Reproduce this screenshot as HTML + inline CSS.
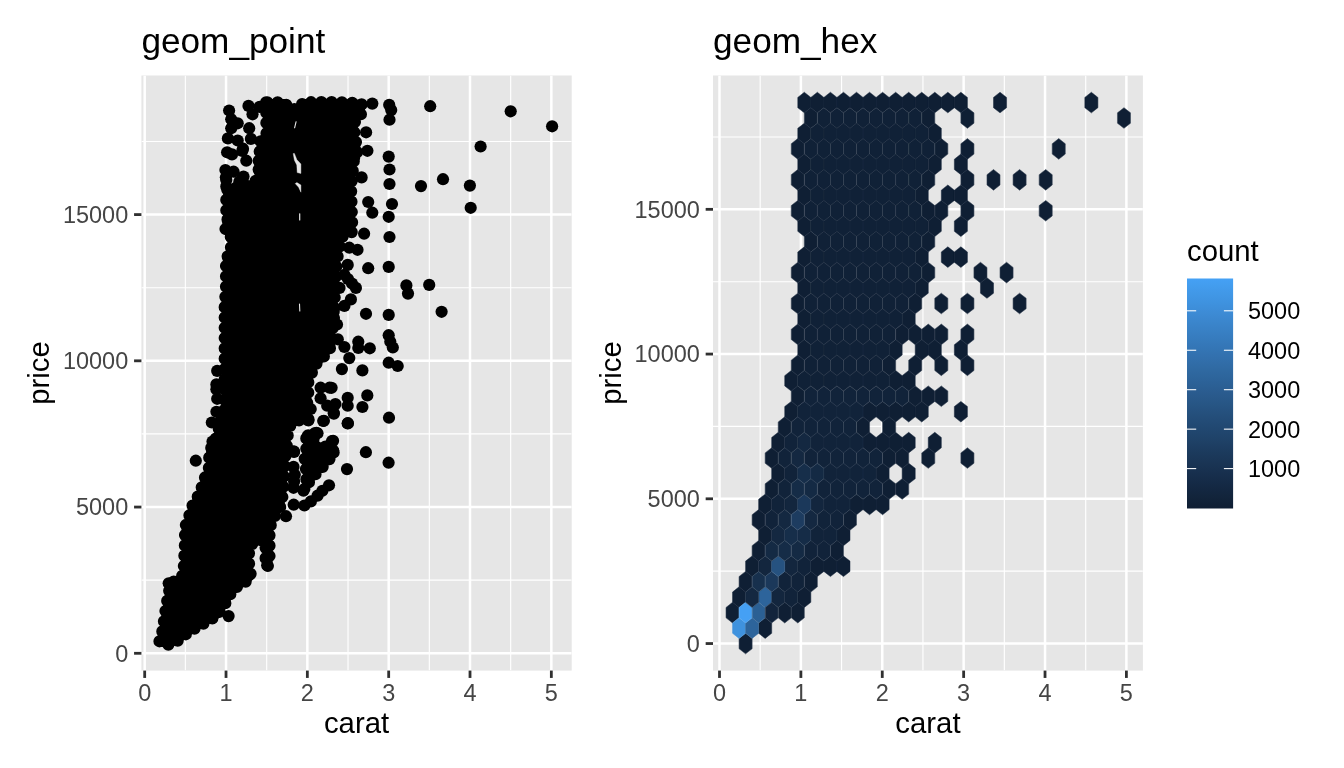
<!DOCTYPE html>
<html lang="en"><head><meta charset="utf-8"><title>geom_point vs geom_hex</title>
<style>html,body{margin:0;padding:0;background:#fff;}body{width:1344px;height:768px;overflow:hidden;font-family:"Liberation Sans",Arial,sans-serif;}svg{display:block;will-change:transform;transform:translateZ(0);}</style>
</head><body>
<svg width="1344" height="768" viewBox="0 0 1344 768" font-family="Liberation Sans, Arial, sans-serif">
<rect width="1344" height="768" fill="#fff"/>
<clipPath id="c1"><rect x="141.4" y="75.5" width="430.30" height="595.10"/></clipPath>
<rect x="141.4" y="75.5" width="430.30" height="595.10" fill="#E6E6E6"/>
<g clip-path="url(#c1)" stroke="#fff" fill="none">
<line x1="185.35" x2="185.35" y1="75.5" y2="670.6" stroke-width="1.15"/>
<line x1="266.69" x2="266.69" y1="75.5" y2="670.6" stroke-width="1.15"/>
<line x1="348.01" x2="348.01" y1="75.5" y2="670.6" stroke-width="1.15"/>
<line x1="429.34" x2="429.34" y1="75.5" y2="670.6" stroke-width="1.15"/>
<line x1="510.68" x2="510.68" y1="75.5" y2="670.6" stroke-width="1.15"/>
<line y1="580.18" y2="580.18" x1="141.4" x2="571.7" stroke-width="1.15"/>
<line y1="433.94" y2="433.94" x1="141.4" x2="571.7" stroke-width="1.15"/>
<line y1="287.70" y2="287.70" x1="141.4" x2="571.7" stroke-width="1.15"/>
<line y1="141.46" y2="141.46" x1="141.4" x2="571.7" stroke-width="1.15"/>
<line x1="144.69" x2="144.69" y1="75.5" y2="670.6" stroke-width="2.5"/>
<line x1="226.02" x2="226.02" y1="75.5" y2="670.6" stroke-width="2.5"/>
<line x1="307.35" x2="307.35" y1="75.5" y2="670.6" stroke-width="2.5"/>
<line x1="388.68" x2="388.68" y1="75.5" y2="670.6" stroke-width="2.5"/>
<line x1="470.01" x2="470.01" y1="75.5" y2="670.6" stroke-width="2.5"/>
<line x1="551.34" x2="551.34" y1="75.5" y2="670.6" stroke-width="2.5"/>
<line y1="653.30" y2="653.30" x1="141.4" x2="571.7" stroke-width="2.5"/>
<line y1="507.06" y2="507.06" x1="141.4" x2="571.7" stroke-width="2.5"/>
<line y1="360.82" y2="360.82" x1="141.4" x2="571.7" stroke-width="2.5"/>
<line y1="214.58" y2="214.58" x1="141.4" x2="571.7" stroke-width="2.5"/>
</g>
<g clip-path="url(#c1)" fill="#000">
<path d="M266.1,102.3 266.5,133.5 265.2,136.3 260.7,140.5 259.5,149.9 261.0,160.4 259.9,172.8 258.5,178.1 256.6,180.2 247.4,185.8 227.8,188.4 226.3,192.8 226.3,210.5 228.4,213.6 229.0,216.1 228.3,218.5 225.5,221.9 225.5,231.5 229.6,234.6 230.8,236.6 231.0,251.0 230.2,253.8 226.0,258.1 226.0,290.0 224.7,304.2 224.7,400.0 224.0,415.7 222.8,418.2 219.0,422.0 218.8,429.6 214.6,442.1 209.3,451.3 209.1,467.4 204.1,479.7 199.9,493.0 191.7,507.0 188.6,518.3 185.3,526.4 184.7,530.2 185.2,538.4 183.5,573.9 181.6,576.7 173.8,581.5 168.8,591.6 164.6,616.0 162.9,629.4 159.4,641.5 160.8,643.5 168.9,644.7 176.8,641.3 188.4,632.3 218.1,615.1 219.9,611.2 226.7,601.2 233.1,588.9 243.8,583.2 251.1,577.0 249.0,563.4 249.0,550.5 249.6,548.6 253.2,542.2 255.4,540.4 257.3,540.0 262.1,540.2 264.1,541.5 265.2,543.1 265.6,545.0 265.6,562.1 267.5,567.0 269.5,561.2 269.5,532.0 271.1,523.1 275.7,514.5 279.9,507.9 281.6,501.9 283.0,492.5 285.0,459.6 287.0,444.5 288.2,428.7 290.0,426.0 300.2,419.8 303.8,417.1 308.2,398.4 308.3,382.1 314.3,366.2 315.4,364.5 322.3,358.6 332.0,345.3 332.0,332.0 334.0,317.5 335.0,287.9 336.6,261.0 341.6,237.6 343.6,235.6 352.4,231.8 351.0,186.2 352.9,172.0 352.0,164.7 353.1,161.8 357.0,157.9 357.0,144.2 354.3,138.8 354.0,137.2 355.0,120.7 356.4,117.6 361.9,113.5 361.6,103.7 360.4,103.0 329.9,102.0 302.7,102.3 301.4,106.3 299.4,108.4 297.5,109.0 291.0,109.0 288.6,108.4 287.1,107.2 285.3,102.3ZM303.5,490.6 305.3,489.5 308.8,482.4 314.3,475.5 321.0,468.7 333.5,454.5 334.0,452.5 332.0,447.6 332.2,445.6 333.5,442.3 333.3,441.0 332.3,440.4 329.2,442.0 324.5,447.6 322.4,448.8 319.0,448.6 313.9,444.9 312.7,442.9 312.6,440.5 313.4,438.7 316.5,435.5 317.7,433.2 316.8,432.5 306.8,436.6 306.3,437.4 306.3,450.6 304.6,458.2 305.8,465.8 306.6,484.3 306.1,486.1Z" fill-rule="evenodd"/>
<path d="M266.1,102.3 266.5,133.5 265.2,136.3 260.7,140.5 259.5,149.9 261.0,160.4 259.9,172.8 258.5,178.1 256.6,180.2 247.4,185.8 227.8,188.4 226.3,192.8 226.3,210.5 228.4,213.6 229.0,216.1 228.3,218.5 225.5,221.9 225.5,231.5 229.6,234.6 230.8,236.6 231.0,251.0 230.2,253.8 226.0,258.1 226.0,290.0 224.7,304.2 224.7,400.0 224.0,415.7 222.8,418.2 219.0,422.0 218.8,429.6 214.6,442.1 209.3,451.3 209.1,467.4 204.1,479.7 199.9,493.0 191.7,507.0 188.6,518.3 185.3,526.4 184.7,530.2 185.2,538.4 183.5,573.9 181.6,576.7 173.8,581.5 168.8,591.6 164.6,616.0 162.9,629.4 159.4,641.5 160.8,643.5 168.9,644.7 176.8,641.3 188.4,632.3 218.1,615.1 219.9,611.2 226.7,601.2 233.1,588.9 243.8,583.2 251.1,577.0 249.0,563.4 249.0,550.5 249.6,548.6 253.2,542.2 255.4,540.4 257.3,540.0 262.1,540.2 264.1,541.5 265.2,543.1 265.6,545.0 265.6,562.1 267.5,567.0 269.5,561.2 269.5,532.0 271.1,523.1 275.7,514.5 279.9,507.9 281.6,501.9 283.0,492.5 285.0,459.6 287.0,444.5 288.2,428.7 290.0,426.0 300.2,419.8 303.8,417.1 308.2,398.4 308.3,382.1 314.3,366.2 315.4,364.5 322.3,358.6 332.0,345.3 332.0,332.0 334.0,317.5 335.0,287.9 336.6,261.0 341.6,237.6 343.6,235.6 352.4,231.8 351.0,186.2 352.9,172.0 352.0,164.7 353.1,161.8 357.0,157.9 357.0,144.2 354.3,138.8 354.0,137.2 355.0,120.7 356.4,117.6 361.9,113.5 361.6,103.7 360.4,103.0 329.9,102.0 302.7,102.3 301.4,106.3 299.4,108.4 297.5,109.0 291.0,109.0 288.6,108.4 287.1,107.2 285.3,102.3ZM303.5,490.6 305.3,489.5 308.8,482.4 314.3,475.5 321.0,468.7 333.5,454.5 334.0,452.5 332.0,447.6 332.2,445.6 333.5,442.3 333.3,441.0 332.3,440.4 329.2,442.0 324.5,447.6 322.4,448.8 319.0,448.6 313.9,444.9 312.7,442.9 312.6,440.5 313.4,438.7 316.5,435.5 317.7,433.2 316.8,432.5 306.8,436.6 306.3,437.4 306.3,450.6 304.6,458.2 305.8,465.8 306.6,484.3 306.1,486.1Z" fill="none" stroke="#000" stroke-width="12.2" stroke-linecap="round" stroke-linejoin="round" stroke-dasharray="0 10.3"/>
<path d="M266.1,102.3 266.5,133.5 265.2,136.3 260.7,140.5 259.5,149.9 261.0,160.4 259.9,172.8 258.5,178.1 256.6,180.2 247.4,185.8 227.8,188.4 226.3,192.8 226.3,210.5 228.4,213.6 229.0,216.1 228.3,218.5 225.5,221.9 225.5,231.5 229.6,234.6 230.8,236.6 231.0,251.0 230.2,253.8 226.0,258.1 226.0,290.0 224.7,304.2 224.7,400.0 224.0,415.7 222.8,418.2 219.0,422.0 218.8,429.6 214.6,442.1 209.3,451.3 209.1,467.4 204.1,479.7 199.9,493.0 191.7,507.0 188.6,518.3 185.3,526.4 184.7,530.2 185.2,538.4 183.5,573.9 181.6,576.7 173.8,581.5 168.8,591.6 164.6,616.0 162.9,629.4 159.4,641.5 160.8,643.5 168.9,644.7 176.8,641.3 188.4,632.3 218.1,615.1 219.9,611.2 226.7,601.2 233.1,588.9 243.8,583.2 251.1,577.0 249.0,563.4 249.0,550.5 249.6,548.6 253.2,542.2 255.4,540.4 257.3,540.0 262.1,540.2 264.1,541.5 265.2,543.1 265.6,545.0 265.6,562.1 267.5,567.0 269.5,561.2 269.5,532.0 271.1,523.1 275.7,514.5 279.9,507.9 281.6,501.9 283.0,492.5 285.0,459.6 287.0,444.5 288.2,428.7 290.0,426.0 300.2,419.8 303.8,417.1 308.2,398.4 308.3,382.1 314.3,366.2 315.4,364.5 322.3,358.6 332.0,345.3 332.0,332.0 334.0,317.5 335.0,287.9 336.6,261.0 341.6,237.6 343.6,235.6 352.4,231.8 351.0,186.2 352.9,172.0 352.0,164.7 353.1,161.8 357.0,157.9 357.0,144.2 354.3,138.8 354.0,137.2 355.0,120.7 356.4,117.6 361.9,113.5 361.6,103.7 360.4,103.0 329.9,102.0 302.7,102.3 301.4,106.3 299.4,108.4 297.5,109.0 291.0,109.0 288.6,108.4 287.1,107.2 285.3,102.3ZM303.5,490.6 305.3,489.5 308.8,482.4 314.3,475.5 321.0,468.7 333.5,454.5 334.0,452.5 332.0,447.6 332.2,445.6 333.5,442.3 333.3,441.0 332.3,440.4 329.2,442.0 324.5,447.6 322.4,448.8 319.0,448.6 313.9,444.9 312.7,442.9 312.6,440.5 313.4,438.7 316.5,435.5 317.7,433.2 316.8,432.5 306.8,436.6 306.3,437.4 306.3,450.6 304.6,458.2 305.8,465.8 306.6,484.3 306.1,486.1Z" fill="none" stroke="#000" stroke-width="6.4" stroke-linejoin="round"/>
<circle cx="229.1" cy="110.5" r="6.1"/>
<circle cx="248.5" cy="105.9" r="6.1"/>
<circle cx="252.5" cy="114.3" r="6.1"/>
<circle cx="231.2" cy="119.2" r="6.1"/>
<circle cx="237.7" cy="123.3" r="6.1"/>
<circle cx="231.2" cy="128.2" r="6.1"/>
<circle cx="249.2" cy="128.2" r="6.1"/>
<circle cx="227.9" cy="138.4" r="6.1"/>
<circle cx="237.7" cy="140.5" r="6.1"/>
<circle cx="243.0" cy="148.7" r="6.1"/>
<circle cx="227.1" cy="152.3" r="6.1"/>
<circle cx="232.0" cy="154.4" r="6.1"/>
<circle cx="246.3" cy="160.7" r="6.1"/>
<circle cx="250.9" cy="138.9" r="6.1"/>
<circle cx="225.4" cy="170.0" r="6.1"/>
<circle cx="233.6" cy="171.7" r="6.1"/>
<circle cx="243.5" cy="176.6" r="6.1"/>
<circle cx="226.3" cy="179.9" r="6.1"/>
<circle cx="226.3" cy="186.4" r="6.1"/>
<circle cx="239.4" cy="181.5" r="6.1"/>
<circle cx="372.3" cy="103.6" r="6.1"/>
<circle cx="389.2" cy="104.9" r="6.1"/>
<circle cx="391.2" cy="110.1" r="6.1"/>
<circle cx="389.5" cy="119.7" r="6.1"/>
<circle cx="430.2" cy="106.2" r="6.1"/>
<circle cx="510.7" cy="111.3" r="6.1"/>
<circle cx="552.1" cy="126.3" r="6.1"/>
<circle cx="480.6" cy="146.5" r="6.1"/>
<circle cx="366.1" cy="132.3" r="6.1"/>
<circle cx="367.4" cy="150.8" r="6.1"/>
<circle cx="388.7" cy="156.6" r="6.1"/>
<circle cx="389.5" cy="169.5" r="6.1"/>
<circle cx="389.5" cy="184.0" r="6.1"/>
<circle cx="421.0" cy="186.1" r="6.1"/>
<circle cx="443.0" cy="179.2" r="6.1"/>
<circle cx="469.9" cy="185.6" r="6.1"/>
<circle cx="368.2" cy="202.0" r="6.1"/>
<circle cx="392.0" cy="204.0" r="6.1"/>
<circle cx="470.7" cy="207.8" r="6.1"/>
<circle cx="372.3" cy="212.7" r="6.1"/>
<circle cx="388.7" cy="216.8" r="6.1"/>
<circle cx="361.6" cy="177.4" r="6.1"/>
<circle cx="364.1" cy="233.7" r="6.1"/>
<circle cx="389.5" cy="237.0" r="6.1"/>
<circle cx="368.2" cy="268.2" r="6.1"/>
<circle cx="388.7" cy="266.9" r="6.1"/>
<circle cx="406.4" cy="285.4" r="6.1"/>
<circle cx="408.0" cy="293.6" r="6.1"/>
<circle cx="366.0" cy="313.8" r="6.1"/>
<circle cx="388.7" cy="314.9" r="6.1"/>
<circle cx="349.3" cy="247.7" r="6.1"/>
<circle cx="357.5" cy="249.8" r="6.1"/>
<circle cx="347.7" cy="264.9" r="6.1"/>
<circle cx="344.4" cy="274.8" r="6.1"/>
<circle cx="348.0" cy="279.0" r="6.1"/>
<circle cx="352.0" cy="283.5" r="6.1"/>
<circle cx="355.9" cy="287.9" r="6.1"/>
<circle cx="339.5" cy="287.9" r="6.1"/>
<circle cx="350.9" cy="299.4" r="6.1"/>
<circle cx="344.4" cy="305.9" r="6.1"/>
<circle cx="333.7" cy="311.7" r="6.1"/>
<circle cx="217.2" cy="370.9" r="6.1"/>
<circle cx="216.4" cy="384.4" r="6.1"/>
<circle cx="216.4" cy="389.3" r="6.1"/>
<circle cx="217.2" cy="398.8" r="6.1"/>
<circle cx="216.4" cy="411.8" r="6.1"/>
<circle cx="211.8" cy="422.5" r="6.1"/>
<circle cx="337.0" cy="324.5" r="6.1"/>
<circle cx="337.8" cy="339.3" r="6.1"/>
<circle cx="344.4" cy="347.0" r="6.1"/>
<circle cx="320.6" cy="387.7" r="6.1"/>
<circle cx="329.6" cy="387.7" r="6.1"/>
<circle cx="320.6" cy="398.3" r="6.1"/>
<circle cx="327.2" cy="405.7" r="6.1"/>
<circle cx="335.4" cy="404.1" r="6.1"/>
<circle cx="333.7" cy="413.1" r="6.1"/>
<circle cx="310.7" cy="409.0" r="6.1"/>
<circle cx="323.9" cy="420.8" r="6.1"/>
<circle cx="308.3" cy="420.5" r="6.1"/>
<circle cx="388.7" cy="335.2" r="6.1"/>
<circle cx="390.3" cy="341.7" r="6.1"/>
<circle cx="392.8" cy="347.5" r="6.1"/>
<circle cx="358.3" cy="341.7" r="6.1"/>
<circle cx="358.3" cy="348.0" r="6.1"/>
<circle cx="369.8" cy="348.3" r="6.1"/>
<circle cx="349.3" cy="358.1" r="6.1"/>
<circle cx="341.9" cy="369.1" r="6.1"/>
<circle cx="362.4" cy="370.4" r="6.1"/>
<circle cx="388.7" cy="362.7" r="6.1"/>
<circle cx="397.7" cy="366.0" r="6.1"/>
<circle cx="367.3" cy="395.4" r="6.1"/>
<circle cx="347.7" cy="397.8" r="6.1"/>
<circle cx="347.7" cy="405.7" r="6.1"/>
<circle cx="362.4" cy="407.0" r="6.1"/>
<circle cx="389.0" cy="417.7" r="6.1"/>
<circle cx="347.7" cy="423.4" r="6.1"/>
<circle cx="441.6" cy="311.8" r="6.1"/>
<circle cx="331.6" cy="387.8" r="6.1"/>
<circle cx="212.5" cy="441.5" r="6.1"/>
<circle cx="195.8" cy="460.7" r="6.1"/>
<circle cx="308.5" cy="419.4" r="6.1"/>
<circle cx="323.2" cy="421.0" r="6.1"/>
<circle cx="333.9" cy="413.6" r="6.1"/>
<circle cx="347.9" cy="423.2" r="6.1"/>
<circle cx="307.7" cy="436.6" r="6.1"/>
<circle cx="317.5" cy="433.3" r="6.1"/>
<circle cx="293.7" cy="451.4" r="6.1"/>
<circle cx="329.0" cy="485.3" r="6.1"/>
<circle cx="322.4" cy="490.8" r="6.1"/>
<circle cx="317.5" cy="495.7" r="6.1"/>
<circle cx="310.9" cy="501.4" r="6.1"/>
<circle cx="304.4" cy="505.5" r="6.1"/>
<circle cx="293.7" cy="504.7" r="6.1"/>
<circle cx="286.0" cy="516.2" r="6.1"/>
<circle cx="365.9" cy="452.2" r="6.1"/>
<circle cx="347.0" cy="469.1" r="6.1"/>
<circle cx="388.6" cy="462.7" r="6.1"/>
<circle cx="316.4" cy="432.8" r="6.1"/>
<circle cx="308.2" cy="435.3" r="6.1"/>
<circle cx="332.0" cy="441.0" r="6.1"/>
<circle cx="333.6" cy="452.5" r="6.1"/>
<circle cx="429.2" cy="284.9" r="6.1"/>
<circle cx="259.6" cy="106.9" r="6.1"/>
<circle cx="242.3" cy="150.9" r="6.1"/>
<circle cx="258.7" cy="160.9" r="6.1"/>
<circle cx="258.7" cy="169.6" r="6.1"/>
<circle cx="225.9" cy="177.3" r="6.1"/>
<circle cx="294.1" cy="451.9" r="6.1"/>
<circle cx="293.5" cy="466.9" r="6.1"/>
<circle cx="294.8" cy="474.7" r="6.1"/>
<circle cx="294.1" cy="481.2" r="6.1"/>
<circle cx="293.5" cy="487.8" r="6.1"/>
<circle cx="168.7" cy="583.3" r="6.1"/>
<circle cx="228.6" cy="616.1" r="6.1"/>
<circle cx="267.2" cy="565.3" r="6.1"/>
<path d="M296.1,121.7 294.6,127.8" fill="none" stroke="#E6E6E6" stroke-width="1.1" stroke-linecap="round" stroke-linejoin="round"/>
<path d="M299.7,213.8 299.7,220.0" fill="none" stroke="#E6E6E6" stroke-width="1.2" stroke-linecap="round" stroke-linejoin="round"/>
<path d="M299.5,304.0 299.8,311.0" fill="none" stroke="#E6E6E6" stroke-width="1.1" stroke-linecap="round" stroke-linejoin="round"/>
<path d="M293.2,153.6 294.4,153.4 296.9,159.8 300.9,163.9 300.9,173.4 297.2,172.6 296.8,165.0 294.4,160.2Z" fill="#E6E6E6" stroke="#E6E6E6" stroke-width=".4" stroke-linejoin="round"/>
<path d="M295.2,183.6 296.9,182.6 300.9,185.0 300.9,192.2 298.6,187.2Z" fill="#E6E6E6" stroke="#E6E6E6" stroke-width=".4" stroke-linejoin="round"/>
</g>
<g stroke="#303030" stroke-width="2.8">
<line x1="144.69" x2="144.69" y1="670.6" y2="677.93"/>
<line x1="226.02" x2="226.02" y1="670.6" y2="677.93"/>
<line x1="307.35" x2="307.35" y1="670.6" y2="677.93"/>
<line x1="388.68" x2="388.68" y1="670.6" y2="677.93"/>
<line x1="470.01" x2="470.01" y1="670.6" y2="677.93"/>
<line x1="551.34" x2="551.34" y1="670.6" y2="677.93"/>
<line y1="653.30" y2="653.30" x1="134.07" x2="141.4"/>
<line y1="507.06" y2="507.06" x1="134.07" x2="141.4"/>
<line y1="360.82" y2="360.82" x1="134.07" x2="141.4"/>
<line y1="214.58" y2="214.58" x1="134.07" x2="141.4"/>
</g>
<g fill="#454545" font-size="23.47">
<text x="144.69" y="700.80" text-anchor="middle">0</text>
<text x="226.02" y="700.80" text-anchor="middle">1</text>
<text x="307.35" y="700.80" text-anchor="middle">2</text>
<text x="388.68" y="700.80" text-anchor="middle">3</text>
<text x="470.01" y="700.80" text-anchor="middle">4</text>
<text x="551.34" y="700.80" text-anchor="middle">5</text>
<text x="128.20" y="661.70" text-anchor="end">0</text>
<text x="128.20" y="515.46" text-anchor="end">5000</text>
<text x="128.20" y="369.22" text-anchor="end">10000</text>
<text x="128.20" y="222.98" text-anchor="end">15000</text>
</g>
<text x="356.55" y="733.00" text-anchor="middle" font-size="29.33" fill="#000">carat</text>
<text transform="translate(49.4,373.05) rotate(-90)" text-anchor="middle" font-size="29.33" fill="#000">price</text>
<text x="141.4" y="53.3" font-size="35.2" fill="#000">geom_point</text>
<clipPath id="c2"><rect x="713.0" y="75.5" width="429.90" height="595.10"/></clipPath>
<rect x="713.0" y="75.5" width="429.90" height="595.10" fill="#E6E6E6"/>
<g clip-path="url(#c2)" stroke="#fff" fill="none">
<line x1="760.19" x2="760.19" y1="75.5" y2="670.6" stroke-width="1.15"/>
<line x1="841.57" x2="841.57" y1="75.5" y2="670.6" stroke-width="1.15"/>
<line x1="922.95" x2="922.95" y1="75.5" y2="670.6" stroke-width="1.15"/>
<line x1="1004.33" x2="1004.33" y1="75.5" y2="670.6" stroke-width="1.15"/>
<line x1="1085.71" x2="1085.71" y1="75.5" y2="670.6" stroke-width="1.15"/>
<line y1="571.18" y2="571.18" x1="713.0" x2="1142.9" stroke-width="1.15"/>
<line y1="426.44" y2="426.44" x1="713.0" x2="1142.9" stroke-width="1.15"/>
<line y1="281.70" y2="281.70" x1="713.0" x2="1142.9" stroke-width="1.15"/>
<line y1="136.96" y2="136.96" x1="713.0" x2="1142.9" stroke-width="1.15"/>
<line x1="719.50" x2="719.50" y1="75.5" y2="670.6" stroke-width="2.5"/>
<line x1="800.88" x2="800.88" y1="75.5" y2="670.6" stroke-width="2.5"/>
<line x1="882.26" x2="882.26" y1="75.5" y2="670.6" stroke-width="2.5"/>
<line x1="963.64" x2="963.64" y1="75.5" y2="670.6" stroke-width="2.5"/>
<line x1="1045.02" x2="1045.02" y1="75.5" y2="670.6" stroke-width="2.5"/>
<line x1="1126.40" x2="1126.40" y1="75.5" y2="670.6" stroke-width="2.5"/>
<line y1="643.55" y2="643.55" x1="713.0" x2="1142.9" stroke-width="2.5"/>
<line y1="498.81" y2="498.81" x1="713.0" x2="1142.9" stroke-width="2.5"/>
<line y1="354.07" y2="354.07" x1="713.0" x2="1142.9" stroke-width="2.5"/>
<line y1="209.33" y2="209.33" x1="713.0" x2="1142.9" stroke-width="2.5"/>
</g>
<g clip-path="url(#c2)">
<path d="M745.60,633.25 752.12,638.40 752.12,648.70 745.60,653.85 739.07,648.70 739.07,638.40ZM765.17,617.79 771.69,622.94 771.69,633.25 765.17,638.40 758.64,633.25 758.64,622.94ZM732.55,602.33 739.07,607.48 739.07,617.79 732.55,622.94 726.02,617.79 726.02,607.48ZM784.74,602.33 791.26,607.48 791.26,617.79 784.74,622.94 778.22,617.79 778.22,607.48ZM797.79,602.33 804.31,607.48 804.31,617.79 797.79,622.94 791.26,617.79 791.26,607.48ZM739.07,586.87 745.60,592.03 745.60,602.33 739.07,607.48 732.55,602.33 732.55,592.03ZM804.31,586.87 810.84,592.03 810.84,602.33 804.31,607.48 797.79,602.33 797.79,592.03ZM745.60,571.42 752.12,576.57 752.12,586.87 745.60,592.03 739.07,586.87 739.07,576.57ZM810.84,571.42 817.36,576.57 817.36,586.87 810.84,592.03 804.31,586.87 804.31,576.57ZM752.12,555.96 758.64,561.11 758.64,571.42 752.12,576.57 745.60,571.42 745.60,561.11ZM817.36,555.96 823.88,561.11 823.88,571.42 817.36,576.57 810.84,571.42 810.84,561.11ZM830.41,555.96 836.93,561.11 836.93,571.42 830.41,576.57 823.88,571.42 823.88,561.11ZM843.46,555.96 849.98,561.11 849.98,571.42 843.46,576.57 836.93,571.42 836.93,561.11ZM758.64,540.50 765.17,545.66 765.17,555.96 758.64,561.11 752.12,555.96 752.12,545.66ZM836.93,540.50 843.46,545.66 843.46,555.96 836.93,561.11 830.41,555.96 830.41,545.66ZM765.17,525.05 771.69,530.20 771.69,540.50 765.17,545.66 758.64,540.50 758.64,530.20ZM843.46,525.05 849.98,530.20 849.98,540.50 843.46,545.66 836.93,540.50 836.93,530.20ZM758.64,509.59 765.17,514.74 765.17,525.05 758.64,530.20 752.12,525.05 752.12,514.74ZM849.98,509.59 856.50,514.74 856.50,525.05 849.98,530.20 843.46,525.05 843.46,514.74ZM765.17,494.13 771.69,499.28 771.69,509.59 765.17,514.74 758.64,509.59 758.64,499.28ZM856.50,494.13 863.03,499.28 863.03,509.59 856.50,514.74 849.98,509.59 849.98,499.28ZM869.55,494.13 876.08,499.28 876.08,509.59 869.55,514.74 863.03,509.59 863.03,499.28ZM882.60,494.13 889.12,499.28 889.12,509.59 882.60,514.74 876.08,509.59 876.08,499.28ZM771.69,478.68 778.22,483.83 778.22,494.13 771.69,499.28 765.17,494.13 765.17,483.83ZM889.12,478.68 895.65,483.83 895.65,494.13 889.12,499.28 882.60,494.13 882.60,483.83ZM902.17,478.68 908.70,483.83 908.70,494.13 902.17,499.28 895.65,494.13 895.65,483.83ZM778.22,463.22 784.74,468.37 784.74,478.68 778.22,483.83 771.69,478.68 771.69,468.37ZM882.60,463.22 889.12,468.37 889.12,478.68 882.60,483.83 876.08,478.68 876.08,468.37ZM908.70,463.22 915.22,468.37 915.22,478.68 908.70,483.83 902.17,478.68 902.17,468.37ZM771.69,447.76 778.22,452.91 778.22,463.22 771.69,468.37 765.17,463.22 765.17,452.91ZM889.12,447.76 895.65,452.91 895.65,463.22 889.12,468.37 882.60,463.22 882.60,452.91ZM902.17,447.76 908.70,452.91 908.70,463.22 902.17,468.37 895.65,463.22 895.65,452.91ZM928.27,447.76 934.79,452.91 934.79,463.22 928.27,468.37 921.74,463.22 921.74,452.91ZM967.41,447.76 973.94,452.91 973.94,463.22 967.41,468.37 960.89,463.22 960.89,452.91ZM778.22,432.30 784.74,437.46 784.74,447.76 778.22,452.91 771.69,447.76 771.69,437.46ZM869.55,432.30 876.08,437.46 876.08,447.76 869.55,452.91 863.03,447.76 863.03,437.46ZM882.60,432.30 889.12,437.46 889.12,447.76 882.60,452.91 876.08,447.76 876.08,437.46ZM895.65,432.30 902.17,437.46 902.17,447.76 895.65,452.91 889.12,447.76 889.12,437.46ZM908.70,432.30 915.22,437.46 915.22,447.76 908.70,452.91 902.17,447.76 902.17,437.46ZM934.79,432.30 941.32,437.46 941.32,447.76 934.79,452.91 928.27,447.76 928.27,437.46ZM784.74,416.85 791.26,422.00 791.26,432.30 784.74,437.46 778.22,432.30 778.22,422.00ZM863.03,416.85 869.55,422.00 869.55,432.30 863.03,437.46 856.50,432.30 856.50,422.00ZM889.12,416.85 895.65,422.00 895.65,432.30 889.12,437.46 882.60,432.30 882.60,422.00ZM791.26,401.39 797.79,406.54 797.79,416.85 791.26,422.00 784.74,416.85 784.74,406.54ZM869.55,401.39 876.08,406.54 876.08,416.85 869.55,422.00 863.03,416.85 863.03,406.54ZM882.60,401.39 889.12,406.54 889.12,416.85 882.60,422.00 876.08,416.85 876.08,406.54ZM895.65,401.39 902.17,406.54 902.17,416.85 895.65,422.00 889.12,416.85 889.12,406.54ZM908.70,401.39 915.22,406.54 915.22,416.85 908.70,422.00 902.17,416.85 902.17,406.54ZM921.74,401.39 928.27,406.54 928.27,416.85 921.74,422.00 915.22,416.85 915.22,406.54ZM960.89,401.39 967.41,406.54 967.41,416.85 960.89,422.00 954.36,416.85 954.36,406.54ZM797.79,385.93 804.31,391.09 804.31,401.39 797.79,406.54 791.26,401.39 791.26,391.09ZM915.22,385.93 921.74,391.09 921.74,401.39 915.22,406.54 908.70,401.39 908.70,391.09ZM928.27,385.93 934.79,391.09 934.79,401.39 928.27,406.54 921.74,401.39 921.74,391.09ZM941.32,385.93 947.84,391.09 947.84,401.39 941.32,406.54 934.79,401.39 934.79,391.09ZM791.26,370.48 797.79,375.63 797.79,385.93 791.26,391.09 784.74,385.93 784.74,375.63ZM895.65,370.48 902.17,375.63 902.17,385.93 895.65,391.09 889.12,385.93 889.12,375.63ZM908.70,370.48 915.22,375.63 915.22,385.93 908.70,391.09 902.17,385.93 902.17,375.63ZM797.79,355.02 804.31,360.17 804.31,370.48 797.79,375.63 791.26,370.48 791.26,360.17ZM889.12,355.02 895.65,360.17 895.65,370.48 889.12,375.63 882.60,370.48 882.60,360.17ZM915.22,355.02 921.74,360.17 921.74,370.48 915.22,375.63 908.70,370.48 908.70,360.17ZM941.32,355.02 947.84,360.17 947.84,370.48 941.32,375.63 934.79,370.48 934.79,360.17ZM967.41,355.02 973.94,360.17 973.94,370.48 967.41,375.63 960.89,370.48 960.89,360.17ZM804.31,339.56 810.84,344.71 810.84,355.02 804.31,360.17 797.79,355.02 797.79,344.71ZM895.65,339.56 902.17,344.71 902.17,355.02 895.65,360.17 889.12,355.02 889.12,344.71ZM921.74,339.56 928.27,344.71 928.27,355.02 921.74,360.17 915.22,355.02 915.22,344.71ZM934.79,339.56 941.32,344.71 941.32,355.02 934.79,360.17 928.27,355.02 928.27,344.71ZM960.89,339.56 967.41,344.71 967.41,355.02 960.89,360.17 954.36,355.02 954.36,344.71ZM797.79,324.11 804.31,329.26 804.31,339.56 797.79,344.71 791.26,339.56 791.26,329.26ZM902.17,324.11 908.70,329.26 908.70,339.56 902.17,344.71 895.65,339.56 895.65,329.26ZM915.22,324.11 921.74,329.26 921.74,339.56 915.22,344.71 908.70,339.56 908.70,329.26ZM928.27,324.11 934.79,329.26 934.79,339.56 928.27,344.71 921.74,339.56 921.74,329.26ZM941.32,324.11 947.84,329.26 947.84,339.56 941.32,344.71 934.79,339.56 934.79,329.26ZM967.41,324.11 973.94,329.26 973.94,339.56 967.41,344.71 960.89,339.56 960.89,329.26ZM804.31,308.65 810.84,313.80 810.84,324.11 804.31,329.26 797.79,324.11 797.79,313.80ZM908.70,308.65 915.22,313.80 915.22,324.11 908.70,329.26 902.17,324.11 902.17,313.80ZM797.79,293.19 804.31,298.34 804.31,308.65 797.79,313.80 791.26,308.65 791.26,298.34ZM915.22,293.19 921.74,298.34 921.74,308.65 915.22,313.80 908.70,308.65 908.70,298.34ZM941.32,293.19 947.84,298.34 947.84,308.65 941.32,313.80 934.79,308.65 934.79,298.34ZM967.41,293.19 973.94,298.34 973.94,308.65 967.41,313.80 960.89,308.65 960.89,298.34ZM1019.60,293.19 1026.13,298.34 1026.13,308.65 1019.60,313.80 1013.08,308.65 1013.08,298.34ZM804.31,277.73 810.84,282.89 810.84,293.19 804.31,298.34 797.79,293.19 797.79,282.89ZM921.74,277.73 928.27,282.89 928.27,293.19 921.74,298.34 915.22,293.19 915.22,282.89ZM986.98,277.73 993.51,282.89 993.51,293.19 986.98,298.34 980.46,293.19 980.46,282.89ZM797.79,262.28 804.31,267.43 804.31,277.73 797.79,282.89 791.26,277.73 791.26,267.43ZM928.27,262.28 934.79,267.43 934.79,277.73 928.27,282.89 921.74,277.73 921.74,267.43ZM980.46,262.28 986.98,267.43 986.98,277.73 980.46,282.89 973.94,277.73 973.94,267.43ZM1006.56,262.28 1013.08,267.43 1013.08,277.73 1006.56,282.89 1000.03,277.73 1000.03,267.43ZM804.31,246.82 810.84,251.97 810.84,262.28 804.31,267.43 797.79,262.28 797.79,251.97ZM921.74,246.82 928.27,251.97 928.27,262.28 921.74,267.43 915.22,262.28 915.22,251.97ZM947.84,246.82 954.36,251.97 954.36,262.28 947.84,267.43 941.32,262.28 941.32,251.97ZM960.89,246.82 967.41,251.97 967.41,262.28 960.89,267.43 954.36,262.28 954.36,251.97ZM810.84,231.36 817.36,236.52 817.36,246.82 810.84,251.97 804.31,246.82 804.31,236.52ZM928.27,231.36 934.79,236.52 934.79,246.82 928.27,251.97 921.74,246.82 921.74,236.52ZM804.31,215.91 810.84,221.06 810.84,231.36 804.31,236.52 797.79,231.36 797.79,221.06ZM934.79,215.91 941.32,221.06 941.32,231.36 934.79,236.52 928.27,231.36 928.27,221.06ZM960.89,215.91 967.41,221.06 967.41,231.36 960.89,236.52 954.36,231.36 954.36,221.06ZM797.79,200.45 804.31,205.60 804.31,215.91 797.79,221.06 791.26,215.91 791.26,205.60ZM928.27,200.45 934.79,205.60 934.79,215.91 928.27,221.06 921.74,215.91 921.74,205.60ZM941.32,200.45 947.84,205.60 947.84,215.91 941.32,221.06 934.79,215.91 934.79,205.60ZM967.41,200.45 973.94,205.60 973.94,215.91 967.41,221.06 960.89,215.91 960.89,205.60ZM1045.70,200.45 1052.22,205.60 1052.22,215.91 1045.70,221.06 1039.18,215.91 1039.18,205.60ZM804.31,184.99 810.84,190.14 810.84,200.45 804.31,205.60 797.79,200.45 797.79,190.14ZM921.74,184.99 928.27,190.14 928.27,200.45 921.74,205.60 915.22,200.45 915.22,190.14ZM947.84,184.99 954.36,190.14 954.36,200.45 947.84,205.60 941.32,200.45 941.32,190.14ZM960.89,184.99 967.41,190.14 967.41,200.45 960.89,205.60 954.36,200.45 954.36,190.14ZM797.79,169.54 804.31,174.69 804.31,184.99 797.79,190.14 791.26,184.99 791.26,174.69ZM928.27,169.54 934.79,174.69 934.79,184.99 928.27,190.14 921.74,184.99 921.74,174.69ZM967.41,169.54 973.94,174.69 973.94,184.99 967.41,190.14 960.89,184.99 960.89,174.69ZM993.51,169.54 1000.03,174.69 1000.03,184.99 993.51,190.14 986.98,184.99 986.98,174.69ZM1019.60,169.54 1026.13,174.69 1026.13,184.99 1019.60,190.14 1013.08,184.99 1013.08,174.69ZM1045.70,169.54 1052.22,174.69 1052.22,184.99 1045.70,190.14 1039.18,184.99 1039.18,174.69ZM804.31,154.08 810.84,159.23 810.84,169.54 804.31,174.69 797.79,169.54 797.79,159.23ZM934.79,154.08 941.32,159.23 941.32,169.54 934.79,174.69 928.27,169.54 928.27,159.23ZM960.89,154.08 967.41,159.23 967.41,169.54 960.89,174.69 954.36,169.54 954.36,159.23ZM797.79,138.62 804.31,143.77 804.31,154.08 797.79,159.23 791.26,154.08 791.26,143.77ZM941.32,138.62 947.84,143.77 947.84,154.08 941.32,159.23 934.79,154.08 934.79,143.77ZM967.41,138.62 973.94,143.77 973.94,154.08 967.41,159.23 960.89,154.08 960.89,143.77ZM1058.75,138.62 1065.27,143.77 1065.27,154.08 1058.75,159.23 1052.22,154.08 1052.22,143.77ZM804.31,123.16 810.84,128.32 810.84,138.62 804.31,143.77 797.79,138.62 797.79,128.32ZM934.79,123.16 941.32,128.32 941.32,138.62 934.79,143.77 928.27,138.62 928.27,128.32ZM810.84,107.71 817.36,112.86 817.36,123.16 810.84,128.32 804.31,123.16 804.31,112.86ZM928.27,107.71 934.79,112.86 934.79,123.16 928.27,128.32 921.74,123.16 921.74,112.86ZM967.41,107.71 973.94,112.86 973.94,123.16 967.41,128.32 960.89,123.16 960.89,112.86ZM1123.99,107.71 1130.51,112.86 1130.51,123.16 1123.99,128.32 1117.46,123.16 1117.46,112.86ZM804.31,92.25 810.84,97.40 810.84,107.71 804.31,112.86 797.79,107.71 797.79,97.40ZM817.36,92.25 823.88,97.40 823.88,107.71 817.36,112.86 810.84,107.71 810.84,97.40ZM830.41,92.25 836.93,97.40 836.93,107.71 830.41,112.86 823.88,107.71 823.88,97.40ZM843.46,92.25 849.98,97.40 849.98,107.71 843.46,112.86 836.93,107.71 836.93,97.40ZM856.50,92.25 863.03,97.40 863.03,107.71 856.50,112.86 849.98,107.71 849.98,97.40ZM869.55,92.25 876.08,97.40 876.08,107.71 869.55,112.86 863.03,107.71 863.03,97.40ZM882.60,92.25 889.12,97.40 889.12,107.71 882.60,112.86 876.08,107.71 876.08,97.40ZM895.65,92.25 902.17,97.40 902.17,107.71 895.65,112.86 889.12,107.71 889.12,97.40ZM908.70,92.25 915.22,97.40 915.22,107.71 908.70,112.86 902.17,107.71 902.17,97.40ZM921.74,92.25 928.27,97.40 928.27,107.71 921.74,112.86 915.22,107.71 915.22,97.40ZM934.79,92.25 941.32,97.40 941.32,107.71 934.79,112.86 928.27,107.71 928.27,97.40ZM947.84,92.25 954.36,97.40 954.36,107.71 947.84,112.86 941.32,107.71 941.32,97.40ZM960.89,92.25 967.41,97.40 967.41,107.71 960.89,112.86 954.36,107.71 954.36,97.40ZM1000.03,92.25 1006.56,97.40 1006.56,107.71 1000.03,112.86 993.51,107.71 993.51,97.40ZM1091.37,92.25 1097.89,97.40 1097.89,107.71 1091.37,112.86 1084.84,107.71 1084.84,97.40Z" fill="#0F1F34" stroke="#0F1F34" stroke-width=".5" stroke-linejoin="round"/>
<path d="M739.07,617.79 745.60,622.94 745.60,633.25 739.07,638.40 732.55,633.25 732.55,622.94Z" fill="#3F92DE" stroke="#3F92DE" stroke-width=".5" stroke-linejoin="round"/>
<path d="M752.12,617.79 758.64,622.94 758.64,633.25 752.12,638.40 745.60,633.25 745.60,622.94ZM765.17,586.87 771.69,592.03 771.69,602.33 765.17,607.48 758.64,602.33 758.64,592.03Z" fill="#2D649B" stroke="#2D649B" stroke-width=".5" stroke-linejoin="round"/>
<path d="M745.60,602.33 752.12,607.48 752.12,617.79 745.60,622.94 739.07,617.79 739.07,607.48Z" fill="#45A0F4" stroke="#45A0F4" stroke-width=".5" stroke-linejoin="round"/>
<path d="M758.64,602.33 765.17,607.48 765.17,617.79 758.64,622.94 752.12,617.79 752.12,607.48Z" fill="#2B6094" stroke="#2B6094" stroke-width=".5" stroke-linejoin="round"/>
<path d="M771.69,602.33 778.22,607.48 778.22,617.79 771.69,622.94 765.17,617.79 765.17,607.48Z" fill="#12243C" stroke="#12243C" stroke-width=".5" stroke-linejoin="round"/>
<path d="M752.12,586.87 758.64,592.03 758.64,602.33 752.12,607.48 745.60,602.33 745.60,592.03ZM778.22,525.05 784.74,530.20 784.74,540.50 778.22,545.66 771.69,540.50 771.69,530.20ZM784.74,509.59 791.26,514.74 791.26,525.05 784.74,530.20 778.22,525.05 778.22,514.74ZM810.84,509.59 817.36,514.74 817.36,525.05 810.84,530.20 804.31,525.05 804.31,514.74ZM797.79,447.76 804.31,452.91 804.31,463.22 797.79,468.37 791.26,463.22 791.26,452.91ZM804.31,432.30 810.84,437.46 810.84,447.76 804.31,452.91 797.79,447.76 797.79,437.46Z" fill="#142841" stroke="#142841" stroke-width=".5" stroke-linejoin="round"/>
<path d="M778.22,586.87 784.74,592.03 784.74,602.33 778.22,607.48 771.69,602.33 771.69,592.03ZM765.17,555.96 771.69,561.11 771.69,571.42 765.17,576.57 758.64,571.42 758.64,561.11ZM791.26,555.96 797.79,561.11 797.79,571.42 791.26,576.57 784.74,571.42 784.74,561.11ZM791.26,494.13 797.79,499.28 797.79,509.59 791.26,514.74 784.74,509.59 784.74,499.28ZM817.36,494.13 823.88,499.28 823.88,509.59 817.36,514.74 810.84,509.59 810.84,499.28Z" fill="#13263E" stroke="#13263E" stroke-width=".5" stroke-linejoin="round"/>
<path d="M791.26,586.87 797.79,592.03 797.79,602.33 791.26,607.48 784.74,602.33 784.74,592.03ZM784.74,571.42 791.26,576.57 791.26,586.87 784.74,592.03 778.22,586.87 778.22,576.57ZM797.79,571.42 804.31,576.57 804.31,586.87 797.79,592.03 791.26,586.87 791.26,576.57ZM804.31,555.96 810.84,561.11 810.84,571.42 804.31,576.57 797.79,571.42 797.79,561.11ZM810.84,540.50 817.36,545.66 817.36,555.96 810.84,561.11 804.31,555.96 804.31,545.66ZM823.88,540.50 830.41,545.66 830.41,555.96 823.88,561.11 817.36,555.96 817.36,545.66ZM817.36,525.05 823.88,530.20 823.88,540.50 817.36,545.66 810.84,540.50 810.84,530.20ZM830.41,525.05 836.93,530.20 836.93,540.50 830.41,545.66 823.88,540.50 823.88,530.20ZM771.69,509.59 778.22,514.74 778.22,525.05 771.69,530.20 765.17,525.05 765.17,514.74ZM823.88,509.59 830.41,514.74 830.41,525.05 823.88,530.20 817.36,525.05 817.36,514.74ZM836.93,509.59 843.46,514.74 843.46,525.05 836.93,530.20 830.41,525.05 830.41,514.74ZM778.22,494.13 784.74,499.28 784.74,509.59 778.22,514.74 771.69,509.59 771.69,499.28ZM830.41,494.13 836.93,499.28 836.93,509.59 830.41,514.74 823.88,509.59 823.88,499.28ZM843.46,494.13 849.98,499.28 849.98,509.59 843.46,514.74 836.93,509.59 836.93,499.28ZM784.74,478.68 791.26,483.83 791.26,494.13 784.74,499.28 778.22,494.13 778.22,483.83ZM823.88,478.68 830.41,483.83 830.41,494.13 823.88,499.28 817.36,494.13 817.36,483.83ZM836.93,478.68 843.46,483.83 843.46,494.13 836.93,499.28 830.41,494.13 830.41,483.83ZM849.98,478.68 856.50,483.83 856.50,494.13 849.98,499.28 843.46,494.13 843.46,483.83ZM863.03,478.68 869.55,483.83 869.55,494.13 863.03,499.28 856.50,494.13 856.50,483.83ZM876.08,478.68 882.60,483.83 882.60,494.13 876.08,499.28 869.55,494.13 869.55,483.83ZM791.26,463.22 797.79,468.37 797.79,478.68 791.26,483.83 784.74,478.68 784.74,468.37ZM830.41,463.22 836.93,468.37 836.93,478.68 830.41,483.83 823.88,478.68 823.88,468.37ZM843.46,463.22 849.98,468.37 849.98,478.68 843.46,483.83 836.93,478.68 836.93,468.37ZM856.50,463.22 863.03,468.37 863.03,478.68 856.50,483.83 849.98,478.68 849.98,468.37ZM869.55,463.22 876.08,468.37 876.08,478.68 869.55,483.83 863.03,478.68 863.03,468.37ZM784.74,447.76 791.26,452.91 791.26,463.22 784.74,468.37 778.22,463.22 778.22,452.91ZM810.84,447.76 817.36,452.91 817.36,463.22 810.84,468.37 804.31,463.22 804.31,452.91ZM823.88,447.76 830.41,452.91 830.41,463.22 823.88,468.37 817.36,463.22 817.36,452.91ZM836.93,447.76 843.46,452.91 843.46,463.22 836.93,468.37 830.41,463.22 830.41,452.91ZM849.98,447.76 856.50,452.91 856.50,463.22 849.98,468.37 843.46,463.22 843.46,452.91ZM863.03,447.76 869.55,452.91 869.55,463.22 863.03,468.37 856.50,463.22 856.50,452.91ZM876.08,447.76 882.60,452.91 882.60,463.22 876.08,468.37 869.55,463.22 869.55,452.91ZM791.26,432.30 797.79,437.46 797.79,447.76 791.26,452.91 784.74,447.76 784.74,437.46ZM817.36,432.30 823.88,437.46 823.88,447.76 817.36,452.91 810.84,447.76 810.84,437.46ZM830.41,432.30 836.93,437.46 836.93,447.76 830.41,452.91 823.88,447.76 823.88,437.46ZM843.46,432.30 849.98,437.46 849.98,447.76 843.46,452.91 836.93,447.76 836.93,437.46ZM856.50,432.30 863.03,437.46 863.03,447.76 856.50,452.91 849.98,447.76 849.98,437.46ZM797.79,416.85 804.31,422.00 804.31,432.30 797.79,437.46 791.26,432.30 791.26,422.00ZM810.84,416.85 817.36,422.00 817.36,432.30 810.84,437.46 804.31,432.30 804.31,422.00ZM823.88,416.85 830.41,422.00 830.41,432.30 823.88,437.46 817.36,432.30 817.36,422.00ZM836.93,416.85 843.46,422.00 843.46,432.30 836.93,437.46 830.41,432.30 830.41,422.00ZM849.98,416.85 856.50,422.00 856.50,432.30 849.98,437.46 843.46,432.30 843.46,422.00ZM804.31,401.39 810.84,406.54 810.84,416.85 804.31,422.00 797.79,416.85 797.79,406.54ZM817.36,401.39 823.88,406.54 823.88,416.85 817.36,422.00 810.84,416.85 810.84,406.54ZM830.41,401.39 836.93,406.54 836.93,416.85 830.41,422.00 823.88,416.85 823.88,406.54ZM843.46,401.39 849.98,406.54 849.98,416.85 843.46,422.00 836.93,416.85 836.93,406.54ZM856.50,401.39 863.03,406.54 863.03,416.85 856.50,422.00 849.98,416.85 849.98,406.54ZM810.84,385.93 817.36,391.09 817.36,401.39 810.84,406.54 804.31,401.39 804.31,391.09ZM823.88,385.93 830.41,391.09 830.41,401.39 823.88,406.54 817.36,401.39 817.36,391.09ZM836.93,385.93 843.46,391.09 843.46,401.39 836.93,406.54 830.41,401.39 830.41,391.09ZM849.98,385.93 856.50,391.09 856.50,401.39 849.98,406.54 843.46,401.39 843.46,391.09ZM863.03,385.93 869.55,391.09 869.55,401.39 863.03,406.54 856.50,401.39 856.50,391.09ZM876.08,385.93 882.60,391.09 882.60,401.39 876.08,406.54 869.55,401.39 869.55,391.09ZM889.12,385.93 895.65,391.09 895.65,401.39 889.12,406.54 882.60,401.39 882.60,391.09ZM902.17,385.93 908.70,391.09 908.70,401.39 902.17,406.54 895.65,401.39 895.65,391.09Z" fill="#11233A" stroke="#11233A" stroke-width=".5" stroke-linejoin="round"/>
<path d="M758.64,571.42 765.17,576.57 765.17,586.87 758.64,592.03 752.12,586.87 752.12,576.57Z" fill="#17304D" stroke="#17304D" stroke-width=".5" stroke-linejoin="round"/>
<path d="M771.69,571.42 778.22,576.57 778.22,586.87 771.69,592.03 765.17,586.87 765.17,576.57ZM804.31,494.13 810.84,499.28 810.84,509.59 804.31,514.74 797.79,509.59 797.79,499.28Z" fill="#1B385A" stroke="#1B385A" stroke-width=".5" stroke-linejoin="round"/>
<path d="M778.22,555.96 784.74,561.11 784.74,571.42 778.22,576.57 771.69,571.42 771.69,561.11Z" fill="#265280" stroke="#265280" stroke-width=".5" stroke-linejoin="round"/>
<path d="M771.69,540.50 778.22,545.66 778.22,555.96 771.69,561.11 765.17,555.96 765.17,545.66ZM797.79,540.50 804.31,545.66 804.31,555.96 797.79,561.11 791.26,555.96 791.26,545.66ZM810.84,478.68 817.36,483.83 817.36,494.13 810.84,499.28 804.31,494.13 804.31,483.83ZM817.36,463.22 823.88,468.37 823.88,478.68 817.36,483.83 810.84,478.68 810.84,468.37Z" fill="#142A44" stroke="#142A44" stroke-width=".5" stroke-linejoin="round"/>
<path d="M784.74,540.50 791.26,545.66 791.26,555.96 784.74,561.11 778.22,555.96 778.22,545.66ZM804.31,525.05 810.84,530.20 810.84,540.50 804.31,545.66 797.79,540.50 797.79,530.20ZM797.79,478.68 804.31,483.83 804.31,494.13 797.79,499.28 791.26,494.13 791.26,483.83Z" fill="#152C47" stroke="#152C47" stroke-width=".5" stroke-linejoin="round"/>
<path d="M791.26,525.05 797.79,530.20 797.79,540.50 791.26,545.66 784.74,540.50 784.74,530.20ZM804.31,463.22 810.84,468.37 810.84,478.68 804.31,483.83 797.79,478.68 797.79,468.37Z" fill="#162E4A" stroke="#162E4A" stroke-width=".5" stroke-linejoin="round"/>
<path d="M797.79,509.59 804.31,514.74 804.31,525.05 797.79,530.20 791.26,525.05 791.26,514.74Z" fill="#1D3C60" stroke="#1D3C60" stroke-width=".5" stroke-linejoin="round"/>
<path d="M804.31,370.48 810.84,375.63 810.84,385.93 804.31,391.09 797.79,385.93 797.79,375.63ZM817.36,370.48 823.88,375.63 823.88,385.93 817.36,391.09 810.84,385.93 810.84,375.63ZM830.41,370.48 836.93,375.63 836.93,385.93 830.41,391.09 823.88,385.93 823.88,375.63ZM843.46,370.48 849.98,375.63 849.98,385.93 843.46,391.09 836.93,385.93 836.93,375.63ZM856.50,370.48 863.03,375.63 863.03,385.93 856.50,391.09 849.98,385.93 849.98,375.63ZM869.55,370.48 876.08,375.63 876.08,385.93 869.55,391.09 863.03,385.93 863.03,375.63ZM882.60,370.48 889.12,375.63 889.12,385.93 882.60,391.09 876.08,385.93 876.08,375.63ZM810.84,355.02 817.36,360.17 817.36,370.48 810.84,375.63 804.31,370.48 804.31,360.17ZM823.88,355.02 830.41,360.17 830.41,370.48 823.88,375.63 817.36,370.48 817.36,360.17ZM836.93,355.02 843.46,360.17 843.46,370.48 836.93,375.63 830.41,370.48 830.41,360.17ZM849.98,355.02 856.50,360.17 856.50,370.48 849.98,375.63 843.46,370.48 843.46,360.17ZM863.03,355.02 869.55,360.17 869.55,370.48 863.03,375.63 856.50,370.48 856.50,360.17ZM876.08,355.02 882.60,360.17 882.60,370.48 876.08,375.63 869.55,370.48 869.55,360.17ZM817.36,339.56 823.88,344.71 823.88,355.02 817.36,360.17 810.84,355.02 810.84,344.71ZM830.41,339.56 836.93,344.71 836.93,355.02 830.41,360.17 823.88,355.02 823.88,344.71ZM843.46,339.56 849.98,344.71 849.98,355.02 843.46,360.17 836.93,355.02 836.93,344.71ZM856.50,339.56 863.03,344.71 863.03,355.02 856.50,360.17 849.98,355.02 849.98,344.71ZM869.55,339.56 876.08,344.71 876.08,355.02 869.55,360.17 863.03,355.02 863.03,344.71ZM882.60,339.56 889.12,344.71 889.12,355.02 882.60,360.17 876.08,355.02 876.08,344.71ZM810.84,324.11 817.36,329.26 817.36,339.56 810.84,344.71 804.31,339.56 804.31,329.26ZM823.88,324.11 830.41,329.26 830.41,339.56 823.88,344.71 817.36,339.56 817.36,329.26ZM836.93,324.11 843.46,329.26 843.46,339.56 836.93,344.71 830.41,339.56 830.41,329.26ZM849.98,324.11 856.50,329.26 856.50,339.56 849.98,344.71 843.46,339.56 843.46,329.26ZM863.03,324.11 869.55,329.26 869.55,339.56 863.03,344.71 856.50,339.56 856.50,329.26ZM876.08,324.11 882.60,329.26 882.60,339.56 876.08,344.71 869.55,339.56 869.55,329.26ZM889.12,324.11 895.65,329.26 895.65,339.56 889.12,344.71 882.60,339.56 882.60,329.26ZM817.36,308.65 823.88,313.80 823.88,324.11 817.36,329.26 810.84,324.11 810.84,313.80ZM830.41,308.65 836.93,313.80 836.93,324.11 830.41,329.26 823.88,324.11 823.88,313.80ZM843.46,308.65 849.98,313.80 849.98,324.11 843.46,329.26 836.93,324.11 836.93,313.80ZM856.50,308.65 863.03,313.80 863.03,324.11 856.50,329.26 849.98,324.11 849.98,313.80ZM869.55,308.65 876.08,313.80 876.08,324.11 869.55,329.26 863.03,324.11 863.03,313.80ZM882.60,308.65 889.12,313.80 889.12,324.11 882.60,329.26 876.08,324.11 876.08,313.80ZM895.65,308.65 902.17,313.80 902.17,324.11 895.65,329.26 889.12,324.11 889.12,313.80ZM810.84,293.19 817.36,298.34 817.36,308.65 810.84,313.80 804.31,308.65 804.31,298.34ZM823.88,293.19 830.41,298.34 830.41,308.65 823.88,313.80 817.36,308.65 817.36,298.34ZM836.93,293.19 843.46,298.34 843.46,308.65 836.93,313.80 830.41,308.65 830.41,298.34ZM849.98,293.19 856.50,298.34 856.50,308.65 849.98,313.80 843.46,308.65 843.46,298.34ZM863.03,293.19 869.55,298.34 869.55,308.65 863.03,313.80 856.50,308.65 856.50,298.34ZM876.08,293.19 882.60,298.34 882.60,308.65 876.08,313.80 869.55,308.65 869.55,298.34ZM889.12,293.19 895.65,298.34 895.65,308.65 889.12,313.80 882.60,308.65 882.60,298.34ZM902.17,293.19 908.70,298.34 908.70,308.65 902.17,313.80 895.65,308.65 895.65,298.34ZM817.36,277.73 823.88,282.89 823.88,293.19 817.36,298.34 810.84,293.19 810.84,282.89ZM830.41,277.73 836.93,282.89 836.93,293.19 830.41,298.34 823.88,293.19 823.88,282.89ZM843.46,277.73 849.98,282.89 849.98,293.19 843.46,298.34 836.93,293.19 836.93,282.89ZM856.50,277.73 863.03,282.89 863.03,293.19 856.50,298.34 849.98,293.19 849.98,282.89ZM869.55,277.73 876.08,282.89 876.08,293.19 869.55,298.34 863.03,293.19 863.03,282.89ZM882.60,277.73 889.12,282.89 889.12,293.19 882.60,298.34 876.08,293.19 876.08,282.89ZM895.65,277.73 902.17,282.89 902.17,293.19 895.65,298.34 889.12,293.19 889.12,282.89ZM908.70,277.73 915.22,282.89 915.22,293.19 908.70,298.34 902.17,293.19 902.17,282.89ZM810.84,262.28 817.36,267.43 817.36,277.73 810.84,282.89 804.31,277.73 804.31,267.43ZM823.88,262.28 830.41,267.43 830.41,277.73 823.88,282.89 817.36,277.73 817.36,267.43ZM836.93,262.28 843.46,267.43 843.46,277.73 836.93,282.89 830.41,277.73 830.41,267.43ZM849.98,262.28 856.50,267.43 856.50,277.73 849.98,282.89 843.46,277.73 843.46,267.43ZM863.03,262.28 869.55,267.43 869.55,277.73 863.03,282.89 856.50,277.73 856.50,267.43ZM876.08,262.28 882.60,267.43 882.60,277.73 876.08,282.89 869.55,277.73 869.55,267.43ZM889.12,262.28 895.65,267.43 895.65,277.73 889.12,282.89 882.60,277.73 882.60,267.43ZM902.17,262.28 908.70,267.43 908.70,277.73 902.17,282.89 895.65,277.73 895.65,267.43ZM915.22,262.28 921.74,267.43 921.74,277.73 915.22,282.89 908.70,277.73 908.70,267.43ZM817.36,246.82 823.88,251.97 823.88,262.28 817.36,267.43 810.84,262.28 810.84,251.97ZM830.41,246.82 836.93,251.97 836.93,262.28 830.41,267.43 823.88,262.28 823.88,251.97ZM843.46,246.82 849.98,251.97 849.98,262.28 843.46,267.43 836.93,262.28 836.93,251.97ZM856.50,246.82 863.03,251.97 863.03,262.28 856.50,267.43 849.98,262.28 849.98,251.97ZM869.55,246.82 876.08,251.97 876.08,262.28 869.55,267.43 863.03,262.28 863.03,251.97ZM882.60,246.82 889.12,251.97 889.12,262.28 882.60,267.43 876.08,262.28 876.08,251.97ZM895.65,246.82 902.17,251.97 902.17,262.28 895.65,267.43 889.12,262.28 889.12,251.97ZM908.70,246.82 915.22,251.97 915.22,262.28 908.70,267.43 902.17,262.28 902.17,251.97ZM823.88,231.36 830.41,236.52 830.41,246.82 823.88,251.97 817.36,246.82 817.36,236.52ZM836.93,231.36 843.46,236.52 843.46,246.82 836.93,251.97 830.41,246.82 830.41,236.52ZM849.98,231.36 856.50,236.52 856.50,246.82 849.98,251.97 843.46,246.82 843.46,236.52ZM863.03,231.36 869.55,236.52 869.55,246.82 863.03,251.97 856.50,246.82 856.50,236.52ZM876.08,231.36 882.60,236.52 882.60,246.82 876.08,251.97 869.55,246.82 869.55,236.52ZM889.12,231.36 895.65,236.52 895.65,246.82 889.12,251.97 882.60,246.82 882.60,236.52ZM902.17,231.36 908.70,236.52 908.70,246.82 902.17,251.97 895.65,246.82 895.65,236.52ZM915.22,231.36 921.74,236.52 921.74,246.82 915.22,251.97 908.70,246.82 908.70,236.52ZM817.36,215.91 823.88,221.06 823.88,231.36 817.36,236.52 810.84,231.36 810.84,221.06ZM830.41,215.91 836.93,221.06 836.93,231.36 830.41,236.52 823.88,231.36 823.88,221.06ZM843.46,215.91 849.98,221.06 849.98,231.36 843.46,236.52 836.93,231.36 836.93,221.06ZM856.50,215.91 863.03,221.06 863.03,231.36 856.50,236.52 849.98,231.36 849.98,221.06ZM869.55,215.91 876.08,221.06 876.08,231.36 869.55,236.52 863.03,231.36 863.03,221.06ZM882.60,215.91 889.12,221.06 889.12,231.36 882.60,236.52 876.08,231.36 876.08,221.06ZM895.65,215.91 902.17,221.06 902.17,231.36 895.65,236.52 889.12,231.36 889.12,221.06ZM908.70,215.91 915.22,221.06 915.22,231.36 908.70,236.52 902.17,231.36 902.17,221.06ZM921.74,215.91 928.27,221.06 928.27,231.36 921.74,236.52 915.22,231.36 915.22,221.06ZM810.84,200.45 817.36,205.60 817.36,215.91 810.84,221.06 804.31,215.91 804.31,205.60ZM823.88,200.45 830.41,205.60 830.41,215.91 823.88,221.06 817.36,215.91 817.36,205.60ZM836.93,200.45 843.46,205.60 843.46,215.91 836.93,221.06 830.41,215.91 830.41,205.60ZM849.98,200.45 856.50,205.60 856.50,215.91 849.98,221.06 843.46,215.91 843.46,205.60ZM863.03,200.45 869.55,205.60 869.55,215.91 863.03,221.06 856.50,215.91 856.50,205.60ZM876.08,200.45 882.60,205.60 882.60,215.91 876.08,221.06 869.55,215.91 869.55,205.60ZM889.12,200.45 895.65,205.60 895.65,215.91 889.12,221.06 882.60,215.91 882.60,205.60ZM902.17,200.45 908.70,205.60 908.70,215.91 902.17,221.06 895.65,215.91 895.65,205.60ZM915.22,200.45 921.74,205.60 921.74,215.91 915.22,221.06 908.70,215.91 908.70,205.60ZM817.36,184.99 823.88,190.14 823.88,200.45 817.36,205.60 810.84,200.45 810.84,190.14ZM830.41,184.99 836.93,190.14 836.93,200.45 830.41,205.60 823.88,200.45 823.88,190.14ZM843.46,184.99 849.98,190.14 849.98,200.45 843.46,205.60 836.93,200.45 836.93,190.14ZM856.50,184.99 863.03,190.14 863.03,200.45 856.50,205.60 849.98,200.45 849.98,190.14ZM869.55,184.99 876.08,190.14 876.08,200.45 869.55,205.60 863.03,200.45 863.03,190.14ZM882.60,184.99 889.12,190.14 889.12,200.45 882.60,205.60 876.08,200.45 876.08,190.14ZM895.65,184.99 902.17,190.14 902.17,200.45 895.65,205.60 889.12,200.45 889.12,190.14ZM908.70,184.99 915.22,190.14 915.22,200.45 908.70,205.60 902.17,200.45 902.17,190.14ZM810.84,169.54 817.36,174.69 817.36,184.99 810.84,190.14 804.31,184.99 804.31,174.69ZM823.88,169.54 830.41,174.69 830.41,184.99 823.88,190.14 817.36,184.99 817.36,174.69ZM836.93,169.54 843.46,174.69 843.46,184.99 836.93,190.14 830.41,184.99 830.41,174.69ZM849.98,169.54 856.50,174.69 856.50,184.99 849.98,190.14 843.46,184.99 843.46,174.69ZM863.03,169.54 869.55,174.69 869.55,184.99 863.03,190.14 856.50,184.99 856.50,174.69ZM876.08,169.54 882.60,174.69 882.60,184.99 876.08,190.14 869.55,184.99 869.55,174.69ZM889.12,169.54 895.65,174.69 895.65,184.99 889.12,190.14 882.60,184.99 882.60,174.69ZM902.17,169.54 908.70,174.69 908.70,184.99 902.17,190.14 895.65,184.99 895.65,174.69ZM915.22,169.54 921.74,174.69 921.74,184.99 915.22,190.14 908.70,184.99 908.70,174.69ZM817.36,154.08 823.88,159.23 823.88,169.54 817.36,174.69 810.84,169.54 810.84,159.23ZM830.41,154.08 836.93,159.23 836.93,169.54 830.41,174.69 823.88,169.54 823.88,159.23ZM843.46,154.08 849.98,159.23 849.98,169.54 843.46,174.69 836.93,169.54 836.93,159.23ZM856.50,154.08 863.03,159.23 863.03,169.54 856.50,174.69 849.98,169.54 849.98,159.23ZM869.55,154.08 876.08,159.23 876.08,169.54 869.55,174.69 863.03,169.54 863.03,159.23ZM882.60,154.08 889.12,159.23 889.12,169.54 882.60,174.69 876.08,169.54 876.08,159.23ZM895.65,154.08 902.17,159.23 902.17,169.54 895.65,174.69 889.12,169.54 889.12,159.23ZM908.70,154.08 915.22,159.23 915.22,169.54 908.70,174.69 902.17,169.54 902.17,159.23ZM921.74,154.08 928.27,159.23 928.27,169.54 921.74,174.69 915.22,169.54 915.22,159.23ZM810.84,138.62 817.36,143.77 817.36,154.08 810.84,159.23 804.31,154.08 804.31,143.77ZM823.88,138.62 830.41,143.77 830.41,154.08 823.88,159.23 817.36,154.08 817.36,143.77ZM836.93,138.62 843.46,143.77 843.46,154.08 836.93,159.23 830.41,154.08 830.41,143.77ZM849.98,138.62 856.50,143.77 856.50,154.08 849.98,159.23 843.46,154.08 843.46,143.77ZM863.03,138.62 869.55,143.77 869.55,154.08 863.03,159.23 856.50,154.08 856.50,143.77ZM876.08,138.62 882.60,143.77 882.60,154.08 876.08,159.23 869.55,154.08 869.55,143.77ZM889.12,138.62 895.65,143.77 895.65,154.08 889.12,159.23 882.60,154.08 882.60,143.77ZM902.17,138.62 908.70,143.77 908.70,154.08 902.17,159.23 895.65,154.08 895.65,143.77ZM915.22,138.62 921.74,143.77 921.74,154.08 915.22,159.23 908.70,154.08 908.70,143.77ZM928.27,138.62 934.79,143.77 934.79,154.08 928.27,159.23 921.74,154.08 921.74,143.77ZM817.36,123.16 823.88,128.32 823.88,138.62 817.36,143.77 810.84,138.62 810.84,128.32ZM830.41,123.16 836.93,128.32 836.93,138.62 830.41,143.77 823.88,138.62 823.88,128.32ZM843.46,123.16 849.98,128.32 849.98,138.62 843.46,143.77 836.93,138.62 836.93,128.32ZM856.50,123.16 863.03,128.32 863.03,138.62 856.50,143.77 849.98,138.62 849.98,128.32ZM869.55,123.16 876.08,128.32 876.08,138.62 869.55,143.77 863.03,138.62 863.03,128.32ZM882.60,123.16 889.12,128.32 889.12,138.62 882.60,143.77 876.08,138.62 876.08,128.32ZM895.65,123.16 902.17,128.32 902.17,138.62 895.65,143.77 889.12,138.62 889.12,128.32ZM908.70,123.16 915.22,128.32 915.22,138.62 908.70,143.77 902.17,138.62 902.17,128.32ZM921.74,123.16 928.27,128.32 928.27,138.62 921.74,143.77 915.22,138.62 915.22,128.32ZM823.88,107.71 830.41,112.86 830.41,123.16 823.88,128.32 817.36,123.16 817.36,112.86ZM836.93,107.71 843.46,112.86 843.46,123.16 836.93,128.32 830.41,123.16 830.41,112.86ZM849.98,107.71 856.50,112.86 856.50,123.16 849.98,128.32 843.46,123.16 843.46,112.86ZM863.03,107.71 869.55,112.86 869.55,123.16 863.03,128.32 856.50,123.16 856.50,112.86ZM876.08,107.71 882.60,112.86 882.60,123.16 876.08,128.32 869.55,123.16 869.55,112.86ZM889.12,107.71 895.65,112.86 895.65,123.16 889.12,128.32 882.60,123.16 882.60,112.86ZM902.17,107.71 908.70,112.86 908.70,123.16 902.17,128.32 895.65,123.16 895.65,112.86ZM915.22,107.71 921.74,112.86 921.74,123.16 915.22,128.32 908.70,123.16 908.70,112.86Z" fill="#102137" stroke="#102137" stroke-width=".5" stroke-linejoin="round"/>
<path d="M745.60,633.25 752.12,638.40 752.12,648.70 745.60,653.85 739.07,648.70 739.07,638.40ZM732.55,602.33 739.07,607.48 739.07,617.79 732.55,622.94 726.02,617.79 726.02,607.48ZM745.60,602.33 752.12,607.48 752.12,617.79 745.60,622.94 739.07,617.79 739.07,607.48ZM758.64,602.33 765.17,607.48 765.17,617.79 758.64,622.94 752.12,617.79 752.12,607.48ZM771.69,602.33 778.22,607.48 778.22,617.79 771.69,622.94 765.17,617.79 765.17,607.48ZM784.74,602.33 791.26,607.48 791.26,617.79 784.74,622.94 778.22,617.79 778.22,607.48ZM797.79,602.33 804.31,607.48 804.31,617.79 797.79,622.94 791.26,617.79 791.26,607.48ZM745.60,571.42 752.12,576.57 752.12,586.87 745.60,592.03 739.07,586.87 739.07,576.57ZM758.64,571.42 765.17,576.57 765.17,586.87 758.64,592.03 752.12,586.87 752.12,576.57ZM771.69,571.42 778.22,576.57 778.22,586.87 771.69,592.03 765.17,586.87 765.17,576.57ZM784.74,571.42 791.26,576.57 791.26,586.87 784.74,592.03 778.22,586.87 778.22,576.57ZM797.79,571.42 804.31,576.57 804.31,586.87 797.79,592.03 791.26,586.87 791.26,576.57ZM810.84,571.42 817.36,576.57 817.36,586.87 810.84,592.03 804.31,586.87 804.31,576.57ZM758.64,540.50 765.17,545.66 765.17,555.96 758.64,561.11 752.12,555.96 752.12,545.66ZM771.69,540.50 778.22,545.66 778.22,555.96 771.69,561.11 765.17,555.96 765.17,545.66ZM784.74,540.50 791.26,545.66 791.26,555.96 784.74,561.11 778.22,555.96 778.22,545.66ZM797.79,540.50 804.31,545.66 804.31,555.96 797.79,561.11 791.26,555.96 791.26,545.66ZM810.84,540.50 817.36,545.66 817.36,555.96 810.84,561.11 804.31,555.96 804.31,545.66ZM823.88,540.50 830.41,545.66 830.41,555.96 823.88,561.11 817.36,555.96 817.36,545.66ZM836.93,540.50 843.46,545.66 843.46,555.96 836.93,561.11 830.41,555.96 830.41,545.66ZM758.64,509.59 765.17,514.74 765.17,525.05 758.64,530.20 752.12,525.05 752.12,514.74ZM771.69,509.59 778.22,514.74 778.22,525.05 771.69,530.20 765.17,525.05 765.17,514.74ZM784.74,509.59 791.26,514.74 791.26,525.05 784.74,530.20 778.22,525.05 778.22,514.74ZM797.79,509.59 804.31,514.74 804.31,525.05 797.79,530.20 791.26,525.05 791.26,514.74ZM810.84,509.59 817.36,514.74 817.36,525.05 810.84,530.20 804.31,525.05 804.31,514.74ZM823.88,509.59 830.41,514.74 830.41,525.05 823.88,530.20 817.36,525.05 817.36,514.74ZM836.93,509.59 843.46,514.74 843.46,525.05 836.93,530.20 830.41,525.05 830.41,514.74ZM849.98,509.59 856.50,514.74 856.50,525.05 849.98,530.20 843.46,525.05 843.46,514.74ZM771.69,478.68 778.22,483.83 778.22,494.13 771.69,499.28 765.17,494.13 765.17,483.83ZM784.74,478.68 791.26,483.83 791.26,494.13 784.74,499.28 778.22,494.13 778.22,483.83ZM797.79,478.68 804.31,483.83 804.31,494.13 797.79,499.28 791.26,494.13 791.26,483.83ZM810.84,478.68 817.36,483.83 817.36,494.13 810.84,499.28 804.31,494.13 804.31,483.83ZM823.88,478.68 830.41,483.83 830.41,494.13 823.88,499.28 817.36,494.13 817.36,483.83ZM836.93,478.68 843.46,483.83 843.46,494.13 836.93,499.28 830.41,494.13 830.41,483.83ZM849.98,478.68 856.50,483.83 856.50,494.13 849.98,499.28 843.46,494.13 843.46,483.83ZM863.03,478.68 869.55,483.83 869.55,494.13 863.03,499.28 856.50,494.13 856.50,483.83ZM876.08,478.68 882.60,483.83 882.60,494.13 876.08,499.28 869.55,494.13 869.55,483.83ZM889.12,478.68 895.65,483.83 895.65,494.13 889.12,499.28 882.60,494.13 882.60,483.83ZM902.17,478.68 908.70,483.83 908.70,494.13 902.17,499.28 895.65,494.13 895.65,483.83ZM771.69,447.76 778.22,452.91 778.22,463.22 771.69,468.37 765.17,463.22 765.17,452.91ZM784.74,447.76 791.26,452.91 791.26,463.22 784.74,468.37 778.22,463.22 778.22,452.91ZM797.79,447.76 804.31,452.91 804.31,463.22 797.79,468.37 791.26,463.22 791.26,452.91ZM810.84,447.76 817.36,452.91 817.36,463.22 810.84,468.37 804.31,463.22 804.31,452.91ZM823.88,447.76 830.41,452.91 830.41,463.22 823.88,468.37 817.36,463.22 817.36,452.91ZM836.93,447.76 843.46,452.91 843.46,463.22 836.93,468.37 830.41,463.22 830.41,452.91ZM849.98,447.76 856.50,452.91 856.50,463.22 849.98,468.37 843.46,463.22 843.46,452.91ZM863.03,447.76 869.55,452.91 869.55,463.22 863.03,468.37 856.50,463.22 856.50,452.91ZM876.08,447.76 882.60,452.91 882.60,463.22 876.08,468.37 869.55,463.22 869.55,452.91ZM889.12,447.76 895.65,452.91 895.65,463.22 889.12,468.37 882.60,463.22 882.60,452.91ZM902.17,447.76 908.70,452.91 908.70,463.22 902.17,468.37 895.65,463.22 895.65,452.91ZM928.27,447.76 934.79,452.91 934.79,463.22 928.27,468.37 921.74,463.22 921.74,452.91ZM967.41,447.76 973.94,452.91 973.94,463.22 967.41,468.37 960.89,463.22 960.89,452.91ZM784.74,416.85 791.26,422.00 791.26,432.30 784.74,437.46 778.22,432.30 778.22,422.00ZM797.79,416.85 804.31,422.00 804.31,432.30 797.79,437.46 791.26,432.30 791.26,422.00ZM810.84,416.85 817.36,422.00 817.36,432.30 810.84,437.46 804.31,432.30 804.31,422.00ZM823.88,416.85 830.41,422.00 830.41,432.30 823.88,437.46 817.36,432.30 817.36,422.00ZM836.93,416.85 843.46,422.00 843.46,432.30 836.93,437.46 830.41,432.30 830.41,422.00ZM849.98,416.85 856.50,422.00 856.50,432.30 849.98,437.46 843.46,432.30 843.46,422.00ZM863.03,416.85 869.55,422.00 869.55,432.30 863.03,437.46 856.50,432.30 856.50,422.00ZM889.12,416.85 895.65,422.00 895.65,432.30 889.12,437.46 882.60,432.30 882.60,422.00ZM797.79,385.93 804.31,391.09 804.31,401.39 797.79,406.54 791.26,401.39 791.26,391.09ZM810.84,385.93 817.36,391.09 817.36,401.39 810.84,406.54 804.31,401.39 804.31,391.09ZM823.88,385.93 830.41,391.09 830.41,401.39 823.88,406.54 817.36,401.39 817.36,391.09ZM836.93,385.93 843.46,391.09 843.46,401.39 836.93,406.54 830.41,401.39 830.41,391.09ZM849.98,385.93 856.50,391.09 856.50,401.39 849.98,406.54 843.46,401.39 843.46,391.09ZM863.03,385.93 869.55,391.09 869.55,401.39 863.03,406.54 856.50,401.39 856.50,391.09ZM876.08,385.93 882.60,391.09 882.60,401.39 876.08,406.54 869.55,401.39 869.55,391.09ZM889.12,385.93 895.65,391.09 895.65,401.39 889.12,406.54 882.60,401.39 882.60,391.09ZM902.17,385.93 908.70,391.09 908.70,401.39 902.17,406.54 895.65,401.39 895.65,391.09ZM915.22,385.93 921.74,391.09 921.74,401.39 915.22,406.54 908.70,401.39 908.70,391.09ZM928.27,385.93 934.79,391.09 934.79,401.39 928.27,406.54 921.74,401.39 921.74,391.09ZM941.32,385.93 947.84,391.09 947.84,401.39 941.32,406.54 934.79,401.39 934.79,391.09ZM797.79,355.02 804.31,360.17 804.31,370.48 797.79,375.63 791.26,370.48 791.26,360.17ZM810.84,355.02 817.36,360.17 817.36,370.48 810.84,375.63 804.31,370.48 804.31,360.17ZM823.88,355.02 830.41,360.17 830.41,370.48 823.88,375.63 817.36,370.48 817.36,360.17ZM836.93,355.02 843.46,360.17 843.46,370.48 836.93,375.63 830.41,370.48 830.41,360.17ZM849.98,355.02 856.50,360.17 856.50,370.48 849.98,375.63 843.46,370.48 843.46,360.17ZM863.03,355.02 869.55,360.17 869.55,370.48 863.03,375.63 856.50,370.48 856.50,360.17ZM876.08,355.02 882.60,360.17 882.60,370.48 876.08,375.63 869.55,370.48 869.55,360.17ZM889.12,355.02 895.65,360.17 895.65,370.48 889.12,375.63 882.60,370.48 882.60,360.17ZM915.22,355.02 921.74,360.17 921.74,370.48 915.22,375.63 908.70,370.48 908.70,360.17ZM941.32,355.02 947.84,360.17 947.84,370.48 941.32,375.63 934.79,370.48 934.79,360.17ZM967.41,355.02 973.94,360.17 973.94,370.48 967.41,375.63 960.89,370.48 960.89,360.17ZM797.79,324.11 804.31,329.26 804.31,339.56 797.79,344.71 791.26,339.56 791.26,329.26ZM810.84,324.11 817.36,329.26 817.36,339.56 810.84,344.71 804.31,339.56 804.31,329.26ZM823.88,324.11 830.41,329.26 830.41,339.56 823.88,344.71 817.36,339.56 817.36,329.26ZM836.93,324.11 843.46,329.26 843.46,339.56 836.93,344.71 830.41,339.56 830.41,329.26ZM849.98,324.11 856.50,329.26 856.50,339.56 849.98,344.71 843.46,339.56 843.46,329.26ZM863.03,324.11 869.55,329.26 869.55,339.56 863.03,344.71 856.50,339.56 856.50,329.26ZM876.08,324.11 882.60,329.26 882.60,339.56 876.08,344.71 869.55,339.56 869.55,329.26ZM889.12,324.11 895.65,329.26 895.65,339.56 889.12,344.71 882.60,339.56 882.60,329.26ZM902.17,324.11 908.70,329.26 908.70,339.56 902.17,344.71 895.65,339.56 895.65,329.26ZM915.22,324.11 921.74,329.26 921.74,339.56 915.22,344.71 908.70,339.56 908.70,329.26ZM928.27,324.11 934.79,329.26 934.79,339.56 928.27,344.71 921.74,339.56 921.74,329.26ZM941.32,324.11 947.84,329.26 947.84,339.56 941.32,344.71 934.79,339.56 934.79,329.26ZM967.41,324.11 973.94,329.26 973.94,339.56 967.41,344.71 960.89,339.56 960.89,329.26ZM797.79,293.19 804.31,298.34 804.31,308.65 797.79,313.80 791.26,308.65 791.26,298.34ZM810.84,293.19 817.36,298.34 817.36,308.65 810.84,313.80 804.31,308.65 804.31,298.34ZM823.88,293.19 830.41,298.34 830.41,308.65 823.88,313.80 817.36,308.65 817.36,298.34ZM836.93,293.19 843.46,298.34 843.46,308.65 836.93,313.80 830.41,308.65 830.41,298.34ZM849.98,293.19 856.50,298.34 856.50,308.65 849.98,313.80 843.46,308.65 843.46,298.34ZM863.03,293.19 869.55,298.34 869.55,308.65 863.03,313.80 856.50,308.65 856.50,298.34ZM876.08,293.19 882.60,298.34 882.60,308.65 876.08,313.80 869.55,308.65 869.55,298.34ZM889.12,293.19 895.65,298.34 895.65,308.65 889.12,313.80 882.60,308.65 882.60,298.34ZM902.17,293.19 908.70,298.34 908.70,308.65 902.17,313.80 895.65,308.65 895.65,298.34ZM915.22,293.19 921.74,298.34 921.74,308.65 915.22,313.80 908.70,308.65 908.70,298.34ZM941.32,293.19 947.84,298.34 947.84,308.65 941.32,313.80 934.79,308.65 934.79,298.34ZM967.41,293.19 973.94,298.34 973.94,308.65 967.41,313.80 960.89,308.65 960.89,298.34ZM1019.60,293.19 1026.13,298.34 1026.13,308.65 1019.60,313.80 1013.08,308.65 1013.08,298.34ZM797.79,262.28 804.31,267.43 804.31,277.73 797.79,282.89 791.26,277.73 791.26,267.43ZM810.84,262.28 817.36,267.43 817.36,277.73 810.84,282.89 804.31,277.73 804.31,267.43ZM823.88,262.28 830.41,267.43 830.41,277.73 823.88,282.89 817.36,277.73 817.36,267.43ZM836.93,262.28 843.46,267.43 843.46,277.73 836.93,282.89 830.41,277.73 830.41,267.43ZM849.98,262.28 856.50,267.43 856.50,277.73 849.98,282.89 843.46,277.73 843.46,267.43ZM863.03,262.28 869.55,267.43 869.55,277.73 863.03,282.89 856.50,277.73 856.50,267.43ZM876.08,262.28 882.60,267.43 882.60,277.73 876.08,282.89 869.55,277.73 869.55,267.43ZM889.12,262.28 895.65,267.43 895.65,277.73 889.12,282.89 882.60,277.73 882.60,267.43ZM902.17,262.28 908.70,267.43 908.70,277.73 902.17,282.89 895.65,277.73 895.65,267.43ZM915.22,262.28 921.74,267.43 921.74,277.73 915.22,282.89 908.70,277.73 908.70,267.43ZM928.27,262.28 934.79,267.43 934.79,277.73 928.27,282.89 921.74,277.73 921.74,267.43ZM980.46,262.28 986.98,267.43 986.98,277.73 980.46,282.89 973.94,277.73 973.94,267.43ZM1006.56,262.28 1013.08,267.43 1013.08,277.73 1006.56,282.89 1000.03,277.73 1000.03,267.43ZM810.84,231.36 817.36,236.52 817.36,246.82 810.84,251.97 804.31,246.82 804.31,236.52ZM823.88,231.36 830.41,236.52 830.41,246.82 823.88,251.97 817.36,246.82 817.36,236.52ZM836.93,231.36 843.46,236.52 843.46,246.82 836.93,251.97 830.41,246.82 830.41,236.52ZM849.98,231.36 856.50,236.52 856.50,246.82 849.98,251.97 843.46,246.82 843.46,236.52ZM863.03,231.36 869.55,236.52 869.55,246.82 863.03,251.97 856.50,246.82 856.50,236.52ZM876.08,231.36 882.60,236.52 882.60,246.82 876.08,251.97 869.55,246.82 869.55,236.52ZM889.12,231.36 895.65,236.52 895.65,246.82 889.12,251.97 882.60,246.82 882.60,236.52ZM902.17,231.36 908.70,236.52 908.70,246.82 902.17,251.97 895.65,246.82 895.65,236.52ZM915.22,231.36 921.74,236.52 921.74,246.82 915.22,251.97 908.70,246.82 908.70,236.52ZM928.27,231.36 934.79,236.52 934.79,246.82 928.27,251.97 921.74,246.82 921.74,236.52ZM797.79,200.45 804.31,205.60 804.31,215.91 797.79,221.06 791.26,215.91 791.26,205.60ZM810.84,200.45 817.36,205.60 817.36,215.91 810.84,221.06 804.31,215.91 804.31,205.60ZM823.88,200.45 830.41,205.60 830.41,215.91 823.88,221.06 817.36,215.91 817.36,205.60ZM836.93,200.45 843.46,205.60 843.46,215.91 836.93,221.06 830.41,215.91 830.41,205.60ZM849.98,200.45 856.50,205.60 856.50,215.91 849.98,221.06 843.46,215.91 843.46,205.60ZM863.03,200.45 869.55,205.60 869.55,215.91 863.03,221.06 856.50,215.91 856.50,205.60ZM876.08,200.45 882.60,205.60 882.60,215.91 876.08,221.06 869.55,215.91 869.55,205.60ZM889.12,200.45 895.65,205.60 895.65,215.91 889.12,221.06 882.60,215.91 882.60,205.60ZM902.17,200.45 908.70,205.60 908.70,215.91 902.17,221.06 895.65,215.91 895.65,205.60ZM915.22,200.45 921.74,205.60 921.74,215.91 915.22,221.06 908.70,215.91 908.70,205.60ZM928.27,200.45 934.79,205.60 934.79,215.91 928.27,221.06 921.74,215.91 921.74,205.60ZM941.32,200.45 947.84,205.60 947.84,215.91 941.32,221.06 934.79,215.91 934.79,205.60ZM967.41,200.45 973.94,205.60 973.94,215.91 967.41,221.06 960.89,215.91 960.89,205.60ZM1045.70,200.45 1052.22,205.60 1052.22,215.91 1045.70,221.06 1039.18,215.91 1039.18,205.60ZM797.79,169.54 804.31,174.69 804.31,184.99 797.79,190.14 791.26,184.99 791.26,174.69ZM810.84,169.54 817.36,174.69 817.36,184.99 810.84,190.14 804.31,184.99 804.31,174.69ZM823.88,169.54 830.41,174.69 830.41,184.99 823.88,190.14 817.36,184.99 817.36,174.69ZM836.93,169.54 843.46,174.69 843.46,184.99 836.93,190.14 830.41,184.99 830.41,174.69ZM849.98,169.54 856.50,174.69 856.50,184.99 849.98,190.14 843.46,184.99 843.46,174.69ZM863.03,169.54 869.55,174.69 869.55,184.99 863.03,190.14 856.50,184.99 856.50,174.69ZM876.08,169.54 882.60,174.69 882.60,184.99 876.08,190.14 869.55,184.99 869.55,174.69ZM889.12,169.54 895.65,174.69 895.65,184.99 889.12,190.14 882.60,184.99 882.60,174.69ZM902.17,169.54 908.70,174.69 908.70,184.99 902.17,190.14 895.65,184.99 895.65,174.69ZM915.22,169.54 921.74,174.69 921.74,184.99 915.22,190.14 908.70,184.99 908.70,174.69ZM928.27,169.54 934.79,174.69 934.79,184.99 928.27,190.14 921.74,184.99 921.74,174.69ZM967.41,169.54 973.94,174.69 973.94,184.99 967.41,190.14 960.89,184.99 960.89,174.69ZM993.51,169.54 1000.03,174.69 1000.03,184.99 993.51,190.14 986.98,184.99 986.98,174.69ZM1019.60,169.54 1026.13,174.69 1026.13,184.99 1019.60,190.14 1013.08,184.99 1013.08,174.69ZM1045.70,169.54 1052.22,174.69 1052.22,184.99 1045.70,190.14 1039.18,184.99 1039.18,174.69ZM797.79,138.62 804.31,143.77 804.31,154.08 797.79,159.23 791.26,154.08 791.26,143.77ZM810.84,138.62 817.36,143.77 817.36,154.08 810.84,159.23 804.31,154.08 804.31,143.77ZM823.88,138.62 830.41,143.77 830.41,154.08 823.88,159.23 817.36,154.08 817.36,143.77ZM836.93,138.62 843.46,143.77 843.46,154.08 836.93,159.23 830.41,154.08 830.41,143.77ZM849.98,138.62 856.50,143.77 856.50,154.08 849.98,159.23 843.46,154.08 843.46,143.77ZM863.03,138.62 869.55,143.77 869.55,154.08 863.03,159.23 856.50,154.08 856.50,143.77ZM876.08,138.62 882.60,143.77 882.60,154.08 876.08,159.23 869.55,154.08 869.55,143.77ZM889.12,138.62 895.65,143.77 895.65,154.08 889.12,159.23 882.60,154.08 882.60,143.77ZM902.17,138.62 908.70,143.77 908.70,154.08 902.17,159.23 895.65,154.08 895.65,143.77ZM915.22,138.62 921.74,143.77 921.74,154.08 915.22,159.23 908.70,154.08 908.70,143.77ZM928.27,138.62 934.79,143.77 934.79,154.08 928.27,159.23 921.74,154.08 921.74,143.77ZM941.32,138.62 947.84,143.77 947.84,154.08 941.32,159.23 934.79,154.08 934.79,143.77ZM967.41,138.62 973.94,143.77 973.94,154.08 967.41,159.23 960.89,154.08 960.89,143.77ZM1058.75,138.62 1065.27,143.77 1065.27,154.08 1058.75,159.23 1052.22,154.08 1052.22,143.77ZM810.84,107.71 817.36,112.86 817.36,123.16 810.84,128.32 804.31,123.16 804.31,112.86ZM823.88,107.71 830.41,112.86 830.41,123.16 823.88,128.32 817.36,123.16 817.36,112.86ZM836.93,107.71 843.46,112.86 843.46,123.16 836.93,128.32 830.41,123.16 830.41,112.86ZM849.98,107.71 856.50,112.86 856.50,123.16 849.98,128.32 843.46,123.16 843.46,112.86ZM863.03,107.71 869.55,112.86 869.55,123.16 863.03,128.32 856.50,123.16 856.50,112.86ZM876.08,107.71 882.60,112.86 882.60,123.16 876.08,128.32 869.55,123.16 869.55,112.86ZM889.12,107.71 895.65,112.86 895.65,123.16 889.12,128.32 882.60,123.16 882.60,112.86ZM902.17,107.71 908.70,112.86 908.70,123.16 902.17,128.32 895.65,123.16 895.65,112.86ZM915.22,107.71 921.74,112.86 921.74,123.16 915.22,128.32 908.70,123.16 908.70,112.86ZM928.27,107.71 934.79,112.86 934.79,123.16 928.27,128.32 921.74,123.16 921.74,112.86ZM967.41,107.71 973.94,112.86 973.94,123.16 967.41,128.32 960.89,123.16 960.89,112.86ZM1123.99,107.71 1130.51,112.86 1130.51,123.16 1123.99,128.32 1117.46,123.16 1117.46,112.86Z" fill="none" stroke="#E6E6E6" stroke-opacity=".18" stroke-width=".6"/>
<path d="M739.07,617.79 745.60,622.94 745.60,633.25 739.07,638.40 732.55,633.25 732.55,622.94ZM752.12,617.79 758.64,622.94 758.64,633.25 752.12,638.40 745.60,633.25 745.60,622.94ZM765.17,617.79 771.69,622.94 771.69,633.25 765.17,638.40 758.64,633.25 758.64,622.94ZM739.07,586.87 745.60,592.03 745.60,602.33 739.07,607.48 732.55,602.33 732.55,592.03ZM752.12,586.87 758.64,592.03 758.64,602.33 752.12,607.48 745.60,602.33 745.60,592.03ZM765.17,586.87 771.69,592.03 771.69,602.33 765.17,607.48 758.64,602.33 758.64,592.03ZM778.22,586.87 784.74,592.03 784.74,602.33 778.22,607.48 771.69,602.33 771.69,592.03ZM791.26,586.87 797.79,592.03 797.79,602.33 791.26,607.48 784.74,602.33 784.74,592.03ZM804.31,586.87 810.84,592.03 810.84,602.33 804.31,607.48 797.79,602.33 797.79,592.03ZM752.12,555.96 758.64,561.11 758.64,571.42 752.12,576.57 745.60,571.42 745.60,561.11ZM765.17,555.96 771.69,561.11 771.69,571.42 765.17,576.57 758.64,571.42 758.64,561.11ZM778.22,555.96 784.74,561.11 784.74,571.42 778.22,576.57 771.69,571.42 771.69,561.11ZM791.26,555.96 797.79,561.11 797.79,571.42 791.26,576.57 784.74,571.42 784.74,561.11ZM804.31,555.96 810.84,561.11 810.84,571.42 804.31,576.57 797.79,571.42 797.79,561.11ZM817.36,555.96 823.88,561.11 823.88,571.42 817.36,576.57 810.84,571.42 810.84,561.11ZM830.41,555.96 836.93,561.11 836.93,571.42 830.41,576.57 823.88,571.42 823.88,561.11ZM843.46,555.96 849.98,561.11 849.98,571.42 843.46,576.57 836.93,571.42 836.93,561.11ZM765.17,525.05 771.69,530.20 771.69,540.50 765.17,545.66 758.64,540.50 758.64,530.20ZM778.22,525.05 784.74,530.20 784.74,540.50 778.22,545.66 771.69,540.50 771.69,530.20ZM791.26,525.05 797.79,530.20 797.79,540.50 791.26,545.66 784.74,540.50 784.74,530.20ZM804.31,525.05 810.84,530.20 810.84,540.50 804.31,545.66 797.79,540.50 797.79,530.20ZM817.36,525.05 823.88,530.20 823.88,540.50 817.36,545.66 810.84,540.50 810.84,530.20ZM830.41,525.05 836.93,530.20 836.93,540.50 830.41,545.66 823.88,540.50 823.88,530.20ZM843.46,525.05 849.98,530.20 849.98,540.50 843.46,545.66 836.93,540.50 836.93,530.20ZM765.17,494.13 771.69,499.28 771.69,509.59 765.17,514.74 758.64,509.59 758.64,499.28ZM778.22,494.13 784.74,499.28 784.74,509.59 778.22,514.74 771.69,509.59 771.69,499.28ZM791.26,494.13 797.79,499.28 797.79,509.59 791.26,514.74 784.74,509.59 784.74,499.28ZM804.31,494.13 810.84,499.28 810.84,509.59 804.31,514.74 797.79,509.59 797.79,499.28ZM817.36,494.13 823.88,499.28 823.88,509.59 817.36,514.74 810.84,509.59 810.84,499.28ZM830.41,494.13 836.93,499.28 836.93,509.59 830.41,514.74 823.88,509.59 823.88,499.28ZM843.46,494.13 849.98,499.28 849.98,509.59 843.46,514.74 836.93,509.59 836.93,499.28ZM856.50,494.13 863.03,499.28 863.03,509.59 856.50,514.74 849.98,509.59 849.98,499.28ZM869.55,494.13 876.08,499.28 876.08,509.59 869.55,514.74 863.03,509.59 863.03,499.28ZM882.60,494.13 889.12,499.28 889.12,509.59 882.60,514.74 876.08,509.59 876.08,499.28ZM778.22,463.22 784.74,468.37 784.74,478.68 778.22,483.83 771.69,478.68 771.69,468.37ZM791.26,463.22 797.79,468.37 797.79,478.68 791.26,483.83 784.74,478.68 784.74,468.37ZM804.31,463.22 810.84,468.37 810.84,478.68 804.31,483.83 797.79,478.68 797.79,468.37ZM817.36,463.22 823.88,468.37 823.88,478.68 817.36,483.83 810.84,478.68 810.84,468.37ZM830.41,463.22 836.93,468.37 836.93,478.68 830.41,483.83 823.88,478.68 823.88,468.37ZM843.46,463.22 849.98,468.37 849.98,478.68 843.46,483.83 836.93,478.68 836.93,468.37ZM856.50,463.22 863.03,468.37 863.03,478.68 856.50,483.83 849.98,478.68 849.98,468.37ZM869.55,463.22 876.08,468.37 876.08,478.68 869.55,483.83 863.03,478.68 863.03,468.37ZM882.60,463.22 889.12,468.37 889.12,478.68 882.60,483.83 876.08,478.68 876.08,468.37ZM908.70,463.22 915.22,468.37 915.22,478.68 908.70,483.83 902.17,478.68 902.17,468.37ZM778.22,432.30 784.74,437.46 784.74,447.76 778.22,452.91 771.69,447.76 771.69,437.46ZM791.26,432.30 797.79,437.46 797.79,447.76 791.26,452.91 784.74,447.76 784.74,437.46ZM804.31,432.30 810.84,437.46 810.84,447.76 804.31,452.91 797.79,447.76 797.79,437.46ZM817.36,432.30 823.88,437.46 823.88,447.76 817.36,452.91 810.84,447.76 810.84,437.46ZM830.41,432.30 836.93,437.46 836.93,447.76 830.41,452.91 823.88,447.76 823.88,437.46ZM843.46,432.30 849.98,437.46 849.98,447.76 843.46,452.91 836.93,447.76 836.93,437.46ZM856.50,432.30 863.03,437.46 863.03,447.76 856.50,452.91 849.98,447.76 849.98,437.46ZM869.55,432.30 876.08,437.46 876.08,447.76 869.55,452.91 863.03,447.76 863.03,437.46ZM882.60,432.30 889.12,437.46 889.12,447.76 882.60,452.91 876.08,447.76 876.08,437.46ZM895.65,432.30 902.17,437.46 902.17,447.76 895.65,452.91 889.12,447.76 889.12,437.46ZM908.70,432.30 915.22,437.46 915.22,447.76 908.70,452.91 902.17,447.76 902.17,437.46ZM934.79,432.30 941.32,437.46 941.32,447.76 934.79,452.91 928.27,447.76 928.27,437.46ZM791.26,401.39 797.79,406.54 797.79,416.85 791.26,422.00 784.74,416.85 784.74,406.54ZM804.31,401.39 810.84,406.54 810.84,416.85 804.31,422.00 797.79,416.85 797.79,406.54ZM817.36,401.39 823.88,406.54 823.88,416.85 817.36,422.00 810.84,416.85 810.84,406.54ZM830.41,401.39 836.93,406.54 836.93,416.85 830.41,422.00 823.88,416.85 823.88,406.54ZM843.46,401.39 849.98,406.54 849.98,416.85 843.46,422.00 836.93,416.85 836.93,406.54ZM856.50,401.39 863.03,406.54 863.03,416.85 856.50,422.00 849.98,416.85 849.98,406.54ZM869.55,401.39 876.08,406.54 876.08,416.85 869.55,422.00 863.03,416.85 863.03,406.54ZM882.60,401.39 889.12,406.54 889.12,416.85 882.60,422.00 876.08,416.85 876.08,406.54ZM895.65,401.39 902.17,406.54 902.17,416.85 895.65,422.00 889.12,416.85 889.12,406.54ZM908.70,401.39 915.22,406.54 915.22,416.85 908.70,422.00 902.17,416.85 902.17,406.54ZM921.74,401.39 928.27,406.54 928.27,416.85 921.74,422.00 915.22,416.85 915.22,406.54ZM960.89,401.39 967.41,406.54 967.41,416.85 960.89,422.00 954.36,416.85 954.36,406.54ZM791.26,370.48 797.79,375.63 797.79,385.93 791.26,391.09 784.74,385.93 784.74,375.63ZM804.31,370.48 810.84,375.63 810.84,385.93 804.31,391.09 797.79,385.93 797.79,375.63ZM817.36,370.48 823.88,375.63 823.88,385.93 817.36,391.09 810.84,385.93 810.84,375.63ZM830.41,370.48 836.93,375.63 836.93,385.93 830.41,391.09 823.88,385.93 823.88,375.63ZM843.46,370.48 849.98,375.63 849.98,385.93 843.46,391.09 836.93,385.93 836.93,375.63ZM856.50,370.48 863.03,375.63 863.03,385.93 856.50,391.09 849.98,385.93 849.98,375.63ZM869.55,370.48 876.08,375.63 876.08,385.93 869.55,391.09 863.03,385.93 863.03,375.63ZM882.60,370.48 889.12,375.63 889.12,385.93 882.60,391.09 876.08,385.93 876.08,375.63ZM895.65,370.48 902.17,375.63 902.17,385.93 895.65,391.09 889.12,385.93 889.12,375.63ZM908.70,370.48 915.22,375.63 915.22,385.93 908.70,391.09 902.17,385.93 902.17,375.63ZM804.31,339.56 810.84,344.71 810.84,355.02 804.31,360.17 797.79,355.02 797.79,344.71ZM817.36,339.56 823.88,344.71 823.88,355.02 817.36,360.17 810.84,355.02 810.84,344.71ZM830.41,339.56 836.93,344.71 836.93,355.02 830.41,360.17 823.88,355.02 823.88,344.71ZM843.46,339.56 849.98,344.71 849.98,355.02 843.46,360.17 836.93,355.02 836.93,344.71ZM856.50,339.56 863.03,344.71 863.03,355.02 856.50,360.17 849.98,355.02 849.98,344.71ZM869.55,339.56 876.08,344.71 876.08,355.02 869.55,360.17 863.03,355.02 863.03,344.71ZM882.60,339.56 889.12,344.71 889.12,355.02 882.60,360.17 876.08,355.02 876.08,344.71ZM895.65,339.56 902.17,344.71 902.17,355.02 895.65,360.17 889.12,355.02 889.12,344.71ZM921.74,339.56 928.27,344.71 928.27,355.02 921.74,360.17 915.22,355.02 915.22,344.71ZM934.79,339.56 941.32,344.71 941.32,355.02 934.79,360.17 928.27,355.02 928.27,344.71ZM960.89,339.56 967.41,344.71 967.41,355.02 960.89,360.17 954.36,355.02 954.36,344.71ZM804.31,308.65 810.84,313.80 810.84,324.11 804.31,329.26 797.79,324.11 797.79,313.80ZM817.36,308.65 823.88,313.80 823.88,324.11 817.36,329.26 810.84,324.11 810.84,313.80ZM830.41,308.65 836.93,313.80 836.93,324.11 830.41,329.26 823.88,324.11 823.88,313.80ZM843.46,308.65 849.98,313.80 849.98,324.11 843.46,329.26 836.93,324.11 836.93,313.80ZM856.50,308.65 863.03,313.80 863.03,324.11 856.50,329.26 849.98,324.11 849.98,313.80ZM869.55,308.65 876.08,313.80 876.08,324.11 869.55,329.26 863.03,324.11 863.03,313.80ZM882.60,308.65 889.12,313.80 889.12,324.11 882.60,329.26 876.08,324.11 876.08,313.80ZM895.65,308.65 902.17,313.80 902.17,324.11 895.65,329.26 889.12,324.11 889.12,313.80ZM908.70,308.65 915.22,313.80 915.22,324.11 908.70,329.26 902.17,324.11 902.17,313.80ZM804.31,277.73 810.84,282.89 810.84,293.19 804.31,298.34 797.79,293.19 797.79,282.89ZM817.36,277.73 823.88,282.89 823.88,293.19 817.36,298.34 810.84,293.19 810.84,282.89ZM830.41,277.73 836.93,282.89 836.93,293.19 830.41,298.34 823.88,293.19 823.88,282.89ZM843.46,277.73 849.98,282.89 849.98,293.19 843.46,298.34 836.93,293.19 836.93,282.89ZM856.50,277.73 863.03,282.89 863.03,293.19 856.50,298.34 849.98,293.19 849.98,282.89ZM869.55,277.73 876.08,282.89 876.08,293.19 869.55,298.34 863.03,293.19 863.03,282.89ZM882.60,277.73 889.12,282.89 889.12,293.19 882.60,298.34 876.08,293.19 876.08,282.89ZM895.65,277.73 902.17,282.89 902.17,293.19 895.65,298.34 889.12,293.19 889.12,282.89ZM908.70,277.73 915.22,282.89 915.22,293.19 908.70,298.34 902.17,293.19 902.17,282.89ZM921.74,277.73 928.27,282.89 928.27,293.19 921.74,298.34 915.22,293.19 915.22,282.89ZM986.98,277.73 993.51,282.89 993.51,293.19 986.98,298.34 980.46,293.19 980.46,282.89ZM804.31,246.82 810.84,251.97 810.84,262.28 804.31,267.43 797.79,262.28 797.79,251.97ZM817.36,246.82 823.88,251.97 823.88,262.28 817.36,267.43 810.84,262.28 810.84,251.97ZM830.41,246.82 836.93,251.97 836.93,262.28 830.41,267.43 823.88,262.28 823.88,251.97ZM843.46,246.82 849.98,251.97 849.98,262.28 843.46,267.43 836.93,262.28 836.93,251.97ZM856.50,246.82 863.03,251.97 863.03,262.28 856.50,267.43 849.98,262.28 849.98,251.97ZM869.55,246.82 876.08,251.97 876.08,262.28 869.55,267.43 863.03,262.28 863.03,251.97ZM882.60,246.82 889.12,251.97 889.12,262.28 882.60,267.43 876.08,262.28 876.08,251.97ZM895.65,246.82 902.17,251.97 902.17,262.28 895.65,267.43 889.12,262.28 889.12,251.97ZM908.70,246.82 915.22,251.97 915.22,262.28 908.70,267.43 902.17,262.28 902.17,251.97ZM921.74,246.82 928.27,251.97 928.27,262.28 921.74,267.43 915.22,262.28 915.22,251.97ZM947.84,246.82 954.36,251.97 954.36,262.28 947.84,267.43 941.32,262.28 941.32,251.97ZM960.89,246.82 967.41,251.97 967.41,262.28 960.89,267.43 954.36,262.28 954.36,251.97ZM804.31,215.91 810.84,221.06 810.84,231.36 804.31,236.52 797.79,231.36 797.79,221.06ZM817.36,215.91 823.88,221.06 823.88,231.36 817.36,236.52 810.84,231.36 810.84,221.06ZM830.41,215.91 836.93,221.06 836.93,231.36 830.41,236.52 823.88,231.36 823.88,221.06ZM843.46,215.91 849.98,221.06 849.98,231.36 843.46,236.52 836.93,231.36 836.93,221.06ZM856.50,215.91 863.03,221.06 863.03,231.36 856.50,236.52 849.98,231.36 849.98,221.06ZM869.55,215.91 876.08,221.06 876.08,231.36 869.55,236.52 863.03,231.36 863.03,221.06ZM882.60,215.91 889.12,221.06 889.12,231.36 882.60,236.52 876.08,231.36 876.08,221.06ZM895.65,215.91 902.17,221.06 902.17,231.36 895.65,236.52 889.12,231.36 889.12,221.06ZM908.70,215.91 915.22,221.06 915.22,231.36 908.70,236.52 902.17,231.36 902.17,221.06ZM921.74,215.91 928.27,221.06 928.27,231.36 921.74,236.52 915.22,231.36 915.22,221.06ZM934.79,215.91 941.32,221.06 941.32,231.36 934.79,236.52 928.27,231.36 928.27,221.06ZM960.89,215.91 967.41,221.06 967.41,231.36 960.89,236.52 954.36,231.36 954.36,221.06ZM804.31,184.99 810.84,190.14 810.84,200.45 804.31,205.60 797.79,200.45 797.79,190.14ZM817.36,184.99 823.88,190.14 823.88,200.45 817.36,205.60 810.84,200.45 810.84,190.14ZM830.41,184.99 836.93,190.14 836.93,200.45 830.41,205.60 823.88,200.45 823.88,190.14ZM843.46,184.99 849.98,190.14 849.98,200.45 843.46,205.60 836.93,200.45 836.93,190.14ZM856.50,184.99 863.03,190.14 863.03,200.45 856.50,205.60 849.98,200.45 849.98,190.14ZM869.55,184.99 876.08,190.14 876.08,200.45 869.55,205.60 863.03,200.45 863.03,190.14ZM882.60,184.99 889.12,190.14 889.12,200.45 882.60,205.60 876.08,200.45 876.08,190.14ZM895.65,184.99 902.17,190.14 902.17,200.45 895.65,205.60 889.12,200.45 889.12,190.14ZM908.70,184.99 915.22,190.14 915.22,200.45 908.70,205.60 902.17,200.45 902.17,190.14ZM921.74,184.99 928.27,190.14 928.27,200.45 921.74,205.60 915.22,200.45 915.22,190.14ZM947.84,184.99 954.36,190.14 954.36,200.45 947.84,205.60 941.32,200.45 941.32,190.14ZM960.89,184.99 967.41,190.14 967.41,200.45 960.89,205.60 954.36,200.45 954.36,190.14ZM804.31,154.08 810.84,159.23 810.84,169.54 804.31,174.69 797.79,169.54 797.79,159.23ZM817.36,154.08 823.88,159.23 823.88,169.54 817.36,174.69 810.84,169.54 810.84,159.23ZM830.41,154.08 836.93,159.23 836.93,169.54 830.41,174.69 823.88,169.54 823.88,159.23ZM843.46,154.08 849.98,159.23 849.98,169.54 843.46,174.69 836.93,169.54 836.93,159.23ZM856.50,154.08 863.03,159.23 863.03,169.54 856.50,174.69 849.98,169.54 849.98,159.23ZM869.55,154.08 876.08,159.23 876.08,169.54 869.55,174.69 863.03,169.54 863.03,159.23ZM882.60,154.08 889.12,159.23 889.12,169.54 882.60,174.69 876.08,169.54 876.08,159.23ZM895.65,154.08 902.17,159.23 902.17,169.54 895.65,174.69 889.12,169.54 889.12,159.23ZM908.70,154.08 915.22,159.23 915.22,169.54 908.70,174.69 902.17,169.54 902.17,159.23ZM921.74,154.08 928.27,159.23 928.27,169.54 921.74,174.69 915.22,169.54 915.22,159.23ZM934.79,154.08 941.32,159.23 941.32,169.54 934.79,174.69 928.27,169.54 928.27,159.23ZM960.89,154.08 967.41,159.23 967.41,169.54 960.89,174.69 954.36,169.54 954.36,159.23ZM804.31,123.16 810.84,128.32 810.84,138.62 804.31,143.77 797.79,138.62 797.79,128.32ZM817.36,123.16 823.88,128.32 823.88,138.62 817.36,143.77 810.84,138.62 810.84,128.32ZM830.41,123.16 836.93,128.32 836.93,138.62 830.41,143.77 823.88,138.62 823.88,128.32ZM843.46,123.16 849.98,128.32 849.98,138.62 843.46,143.77 836.93,138.62 836.93,128.32ZM856.50,123.16 863.03,128.32 863.03,138.62 856.50,143.77 849.98,138.62 849.98,128.32ZM869.55,123.16 876.08,128.32 876.08,138.62 869.55,143.77 863.03,138.62 863.03,128.32ZM882.60,123.16 889.12,128.32 889.12,138.62 882.60,143.77 876.08,138.62 876.08,128.32ZM895.65,123.16 902.17,128.32 902.17,138.62 895.65,143.77 889.12,138.62 889.12,128.32ZM908.70,123.16 915.22,128.32 915.22,138.62 908.70,143.77 902.17,138.62 902.17,128.32ZM921.74,123.16 928.27,128.32 928.27,138.62 921.74,143.77 915.22,138.62 915.22,128.32ZM934.79,123.16 941.32,128.32 941.32,138.62 934.79,143.77 928.27,138.62 928.27,128.32ZM804.31,92.25 810.84,97.40 810.84,107.71 804.31,112.86 797.79,107.71 797.79,97.40ZM817.36,92.25 823.88,97.40 823.88,107.71 817.36,112.86 810.84,107.71 810.84,97.40ZM830.41,92.25 836.93,97.40 836.93,107.71 830.41,112.86 823.88,107.71 823.88,97.40ZM843.46,92.25 849.98,97.40 849.98,107.71 843.46,112.86 836.93,107.71 836.93,97.40ZM856.50,92.25 863.03,97.40 863.03,107.71 856.50,112.86 849.98,107.71 849.98,97.40ZM869.55,92.25 876.08,97.40 876.08,107.71 869.55,112.86 863.03,107.71 863.03,97.40ZM882.60,92.25 889.12,97.40 889.12,107.71 882.60,112.86 876.08,107.71 876.08,97.40ZM895.65,92.25 902.17,97.40 902.17,107.71 895.65,112.86 889.12,107.71 889.12,97.40ZM908.70,92.25 915.22,97.40 915.22,107.71 908.70,112.86 902.17,107.71 902.17,97.40ZM921.74,92.25 928.27,97.40 928.27,107.71 921.74,112.86 915.22,107.71 915.22,97.40ZM934.79,92.25 941.32,97.40 941.32,107.71 934.79,112.86 928.27,107.71 928.27,97.40ZM947.84,92.25 954.36,97.40 954.36,107.71 947.84,112.86 941.32,107.71 941.32,97.40ZM960.89,92.25 967.41,97.40 967.41,107.71 960.89,112.86 954.36,107.71 954.36,97.40ZM1000.03,92.25 1006.56,97.40 1006.56,107.71 1000.03,112.86 993.51,107.71 993.51,97.40ZM1091.37,92.25 1097.89,97.40 1097.89,107.71 1091.37,112.86 1084.84,107.71 1084.84,97.40Z" fill="none" stroke="#E6E6E6" stroke-opacity=".06" stroke-width=".6"/>
</g>
<g stroke="#303030" stroke-width="2.8">
<line x1="719.50" x2="719.50" y1="670.6" y2="677.93"/>
<line x1="800.88" x2="800.88" y1="670.6" y2="677.93"/>
<line x1="882.26" x2="882.26" y1="670.6" y2="677.93"/>
<line x1="963.64" x2="963.64" y1="670.6" y2="677.93"/>
<line x1="1045.02" x2="1045.02" y1="670.6" y2="677.93"/>
<line x1="1126.40" x2="1126.40" y1="670.6" y2="677.93"/>
<line y1="643.55" y2="643.55" x1="705.67" x2="713.0"/>
<line y1="498.81" y2="498.81" x1="705.67" x2="713.0"/>
<line y1="354.07" y2="354.07" x1="705.67" x2="713.0"/>
<line y1="209.33" y2="209.33" x1="705.67" x2="713.0"/>
</g>
<g fill="#454545" font-size="23.47">
<text x="719.50" y="700.80" text-anchor="middle">0</text>
<text x="800.88" y="700.80" text-anchor="middle">1</text>
<text x="882.26" y="700.80" text-anchor="middle">2</text>
<text x="963.64" y="700.80" text-anchor="middle">3</text>
<text x="1045.02" y="700.80" text-anchor="middle">4</text>
<text x="1126.40" y="700.80" text-anchor="middle">5</text>
<text x="699.80" y="651.95" text-anchor="end">0</text>
<text x="699.80" y="507.21" text-anchor="end">5000</text>
<text x="699.80" y="362.47" text-anchor="end">10000</text>
<text x="699.80" y="217.73" text-anchor="end">15000</text>
</g>
<text x="927.95" y="733.00" text-anchor="middle" font-size="29.33" fill="#000">carat</text>
<text transform="translate(621.2,373.05) rotate(-90)" text-anchor="middle" font-size="29.33" fill="#000">price</text>
<text x="713" y="53.3" font-size="35.2" fill="#000">geom_hex</text>
<defs><linearGradient id="lg" x1="0" y1="1" x2="0" y2="0">
<stop offset="0.00" stop-color="#0F1E33"/>
<stop offset="0.05" stop-color="#12243B"/>
<stop offset="0.10" stop-color="#142944"/>
<stop offset="0.15" stop-color="#172F4D"/>
<stop offset="0.20" stop-color="#1A3555"/>
<stop offset="0.25" stop-color="#1C3B5E"/>
<stop offset="0.30" stop-color="#1F4268"/>
<stop offset="0.35" stop-color="#214871"/>
<stop offset="0.40" stop-color="#244E7A"/>
<stop offset="0.45" stop-color="#275584"/>
<stop offset="0.50" stop-color="#2A5B8E"/>
<stop offset="0.55" stop-color="#2C6298"/>
<stop offset="0.60" stop-color="#2F69A1"/>
<stop offset="0.65" stop-color="#326FAC"/>
<stop offset="0.70" stop-color="#3476B6"/>
<stop offset="0.75" stop-color="#377DC0"/>
<stop offset="0.80" stop-color="#3A84CA"/>
<stop offset="0.85" stop-color="#3D8BD5"/>
<stop offset="0.90" stop-color="#3F93E0"/>
<stop offset="0.95" stop-color="#429AEA"/>
<stop offset="1.00" stop-color="#45A1F5"/>
</linearGradient></defs>
<text x="1187" y="260.5" font-size="29.33" fill="#000">count</text>
<rect x="1187" y="278.5" width="46.1" height="230" fill="url(#lg)"/>
<g stroke="#fff" stroke-width="1.07" fill="none">
<line x1="1187" x2="1196.2" y1="468.60" y2="468.60"/><line x1="1223.9" x2="1233.1" y1="468.60" y2="468.60"/>
<line x1="1187" x2="1196.2" y1="429.15" y2="429.15"/><line x1="1223.9" x2="1233.1" y1="429.15" y2="429.15"/>
<line x1="1187" x2="1196.2" y1="389.70" y2="389.70"/><line x1="1223.9" x2="1233.1" y1="389.70" y2="389.70"/>
<line x1="1187" x2="1196.2" y1="350.25" y2="350.25"/><line x1="1223.9" x2="1233.1" y1="350.25" y2="350.25"/>
<line x1="1187" x2="1196.2" y1="310.80" y2="310.80"/><line x1="1223.9" x2="1233.1" y1="310.80" y2="310.80"/>
</g>
<g font-size="23.47" fill="#000">
<text x="1248" y="477.00">1000</text>
<text x="1248" y="437.55">2000</text>
<text x="1248" y="398.10">3000</text>
<text x="1248" y="358.65">4000</text>
<text x="1248" y="319.20">5000</text>
</g>
</svg>
</body></html>
